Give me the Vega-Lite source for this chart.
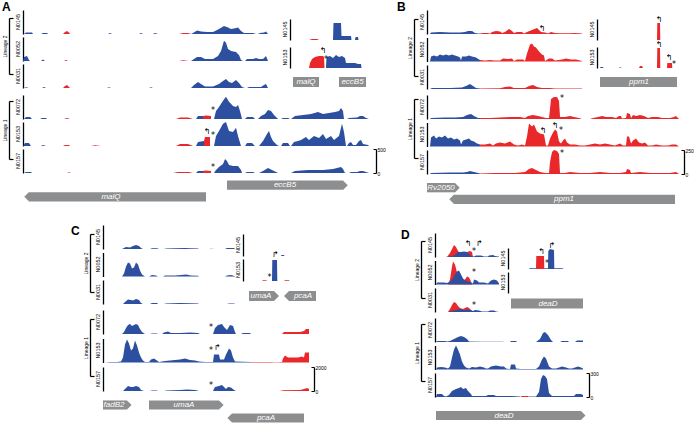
{
"$schema":"https://vega.github.io/schema/vega-lite/v6.json",
"padding":{"left":2,"top":0,"right":0,"bottom":0},
"config":{"view":{"stroke":null},"font":"Liberation Sans",
"axisY":{"domainColor":"#000","domainWidth":1.3,"ticks":false,"labels":false,"grid":false},
"header":{"labelFontSize":5.5,"labelPadding":1.5,"labelColor":"#000","labelFont":"Liberation Sans"},
"title":{"fontSize":12,"fontWeight":"bold","anchor":"start","color":"#000","frame":"group"}},
"datasets":{
"A2":[
{"s":"N0145","c":"b","x":1,"v":0},{"s":"N0145","c":"b","x":3,"v":32},{"s":"N0145","c":"b","x":9,"v":32},{"s":"N0145","c":"b","x":10,"v":0},{"s":"N0145","c":"b","x":18,"v":0},{"s":"N0145","c":"b","x":20,"v":21},{"s":"N0145","c":"b","x":24,"v":21},{"s":"N0145","c":"b","x":25,"v":0},{"s":"N0145","c":"b","x":85,"v":0},{"s":"N0145","c":"b","x":87,"v":21},{"s":"N0145","c":"b","x":89,"v":0},{"s":"N0145","c":"b","x":116,"v":0},{"s":"N0145","c":"b","x":118,"v":21},{"s":"N0145","c":"b","x":120,"v":0},{"s":"N0145","c":"b","x":130,"v":0},{"s":"N0145","c":"b","x":132,"v":21},{"s":"N0145","c":"b","x":135,"v":0},{"s":"N0145","c":"b","x":168,"v":0},{"s":"N0145","c":"b","x":170,"v":21},{"s":"N0145","c":"b","x":174,"v":74},{"s":"N0145","c":"b","x":178,"v":53},{"s":"N0145","c":"b","x":184,"v":42},{"s":"N0145","c":"b","x":190,"v":42},{"s":"N0145","c":"b","x":196,"v":105},{"s":"N0145","c":"b","x":201,"v":168},{"s":"N0145","c":"b","x":205,"v":137},{"s":"N0145","c":"b","x":208,"v":105},{"s":"N0145","c":"b","x":211,"v":116},{"s":"N0145","c":"b","x":215,"v":137},{"s":"N0145","c":"b","x":218,"v":63},{"s":"N0145","c":"b","x":221,"v":21},{"s":"N0145","c":"b","x":230,"v":21},{"s":"N0145","c":"b","x":233,"v":0},{"s":"N0145","c":"b","x":235,"v":0},{"s":"N0145","c":"b","x":237,"v":21},{"s":"N0145","c":"b","x":241,"v":32},{"s":"N0145","c":"b","x":243,"v":53},{"s":"N0145","c":"b","x":245,"v":0},
{"s":"N0145","c":"r","x":40,"v":0},{"s":"N0145","c":"r","x":42,"v":42},{"s":"N0145","c":"r","x":44,"v":63},{"s":"N0145","c":"r","x":46,"v":32},{"s":"N0145","c":"r","x":47,"v":0},{"s":"N0145","c":"r","x":156,"v":0},{"s":"N0145","c":"r","x":160,"v":21},{"s":"N0145","c":"r","x":165,"v":21},{"s":"N0145","c":"r","x":168,"v":0},
{"s":"N0052","c":"b","x":0,"v":0},{"s":"N0052","c":"b","x":1,"v":84},{"s":"N0052","c":"b","x":4,"v":105},{"s":"N0052","c":"b","x":6,"v":21},{"s":"N0052","c":"b","x":7,"v":0},{"s":"N0052","c":"b","x":18,"v":0},{"s":"N0052","c":"b","x":20,"v":32},{"s":"N0052","c":"b","x":22,"v":0},{"s":"N0052","c":"b","x":168,"v":0},{"s":"N0052","c":"b","x":171,"v":42},{"s":"N0052","c":"b","x":174,"v":84},{"s":"N0052","c":"b","x":178,"v":84},{"s":"N0052","c":"b","x":182,"v":42},{"s":"N0052","c":"b","x":190,"v":42},{"s":"N0052","c":"b","x":195,"v":105},{"s":"N0052","c":"b","x":198,"v":210},{"s":"N0052","c":"b","x":201,"v":420},{"s":"N0052","c":"b","x":203,"v":378},{"s":"N0052","c":"b","x":205,"v":252},{"s":"N0052","c":"b","x":208,"v":210},{"s":"N0052","c":"b","x":213,"v":189},{"s":"N0052","c":"b","x":216,"v":126},{"s":"N0052","c":"b","x":218,"v":21},{"s":"N0052","c":"b","x":220,"v":0},{"s":"N0052","c":"b","x":222,"v":0},{"s":"N0052","c":"b","x":224,"v":42},{"s":"N0052","c":"b","x":230,"v":42},{"s":"N0052","c":"b","x":233,"v":63},{"s":"N0052","c":"b","x":236,"v":42},{"s":"N0052","c":"b","x":240,"v":42},{"s":"N0052","c":"b","x":243,"v":105},{"s":"N0052","c":"b","x":245,"v":0},
{"s":"N0052","c":"r","x":41,"v":0},{"s":"N0052","c":"r","x":43,"v":21},{"s":"N0052","c":"r","x":45,"v":0},{"s":"N0052","c":"r","x":156,"v":0},{"s":"N0052","c":"r","x":160,"v":17},{"s":"N0052","c":"r","x":166,"v":0},
{"s":"N0031","c":"b","x":1,"v":0},{"s":"N0031","c":"b","x":3,"v":17},{"s":"N0031","c":"b","x":6,"v":0},{"s":"N0031","c":"b","x":19,"v":0},{"s":"N0031","c":"b","x":21,"v":21},{"s":"N0031","c":"b","x":23,"v":0},{"s":"N0031","c":"b","x":84,"v":0},{"s":"N0031","c":"b","x":86,"v":17},{"s":"N0031","c":"b","x":88,"v":0},{"s":"N0031","c":"b","x":126,"v":0},{"s":"N0031","c":"b","x":128,"v":17},{"s":"N0031","c":"b","x":130,"v":0},{"s":"N0031","c":"b","x":168,"v":0},{"s":"N0031","c":"b","x":171,"v":63},{"s":"N0031","c":"b","x":175,"v":126},{"s":"N0031","c":"b","x":178,"v":84},{"s":"N0031","c":"b","x":182,"v":32},{"s":"N0031","c":"b","x":190,"v":32},{"s":"N0031","c":"b","x":196,"v":84},{"s":"N0031","c":"b","x":200,"v":147},{"s":"N0031","c":"b","x":203,"v":189},{"s":"N0031","c":"b","x":206,"v":126},{"s":"N0031","c":"b","x":209,"v":105},{"s":"N0031","c":"b","x":213,"v":168},{"s":"N0031","c":"b","x":216,"v":105},{"s":"N0031","c":"b","x":219,"v":21},{"s":"N0031","c":"b","x":222,"v":0},{"s":"N0031","c":"b","x":224,"v":0},{"s":"N0031","c":"b","x":226,"v":21},{"s":"N0031","c":"b","x":238,"v":21},{"s":"N0031","c":"b","x":241,"v":63},{"s":"N0031","c":"b","x":243,"v":84},{"s":"N0031","c":"b","x":245,"v":0},
{"s":"N0031","c":"r","x":40,"v":0},{"s":"N0031","c":"r","x":42,"v":42},{"s":"N0031","c":"r","x":44,"v":63},{"s":"N0031","c":"r","x":46,"v":21},{"s":"N0031","c":"r","x":47,"v":0}
],
"A1":[
{"s":"N0072","c":"b","x":1,"v":0},{"s":"N0072","c":"b","x":3,"v":42},{"s":"N0072","c":"b","x":7,"v":42},{"s":"N0072","c":"b","x":9,"v":0},{"s":"N0072","c":"b","x":17,"v":0},{"s":"N0072","c":"b","x":19,"v":21},{"s":"N0072","c":"b","x":23,"v":21},{"s":"N0072","c":"b","x":24,"v":0},{"s":"N0072","c":"b","x":173,"v":0},{"s":"N0072","c":"b","x":175,"v":63},{"s":"N0072","c":"b","x":180,"v":63},{"s":"N0072","c":"b","x":180.1,"v":0},{"s":"N0072","c":"b","x":191,"v":0},{"s":"N0072","c":"b","x":193,"v":168},{"s":"N0072","c":"b","x":196,"v":252},{"s":"N0072","c":"b","x":200,"v":378},{"s":"N0072","c":"b","x":203,"v":462},{"s":"N0072","c":"b","x":206,"v":357},{"s":"N0072","c":"b","x":210,"v":273},{"s":"N0072","c":"b","x":213,"v":252},{"s":"N0072","c":"b","x":215,"v":294},{"s":"N0072","c":"b","x":217,"v":168},{"s":"N0072","c":"b","x":219,"v":0},{"s":"N0072","c":"b","x":222,"v":0},{"s":"N0072","c":"b","x":224,"v":42},{"s":"N0072","c":"b","x":230,"v":42},{"s":"N0072","c":"b","x":232,"v":0},{"s":"N0072","c":"b","x":235,"v":0},{"s":"N0072","c":"b","x":238,"v":63},{"s":"N0072","c":"b","x":242,"v":105},{"s":"N0072","c":"b","x":245,"v":189},{"s":"N0072","c":"b","x":248,"v":168},{"s":"N0072","c":"b","x":251,"v":84},{"s":"N0072","c":"b","x":255,"v":0},{"s":"N0072","c":"b","x":258,"v":0},{"s":"N0072","c":"b","x":260,"v":21},{"s":"N0072","c":"b","x":265,"v":21},{"s":"N0072","c":"b","x":267,"v":0},{"s":"N0072","c":"b","x":268,"v":0},{"s":"N0072","c":"b","x":272,"v":63},{"s":"N0072","c":"b","x":280,"v":84},{"s":"N0072","c":"b","x":288,"v":105},{"s":"N0072","c":"b","x":295,"v":147},{"s":"N0072","c":"b","x":300,"v":105},{"s":"N0072","c":"b","x":306,"v":126},{"s":"N0072","c":"b","x":312,"v":147},{"s":"N0072","c":"b","x":316,"v":168},{"s":"N0072","c":"b","x":318,"v":231},{"s":"N0072","c":"b","x":320,"v":168},{"s":"N0072","c":"b","x":321,"v":0},{"s":"N0072","c":"b","x":324,"v":0},{"s":"N0072","c":"b","x":326,"v":21},{"s":"N0072","c":"b","x":334,"v":32},{"s":"N0072","c":"b","x":337,"v":63},{"s":"N0072","c":"b","x":340,"v":63},{"s":"N0072","c":"b","x":343,"v":21},{"s":"N0072","c":"b","x":346,"v":0},
{"s":"N0072","c":"r","x":41,"v":0},{"s":"N0072","c":"r","x":44,"v":21},{"s":"N0072","c":"r","x":47,"v":0},{"s":"N0072","c":"r","x":153,"v":0},{"s":"N0072","c":"r","x":157,"v":32},{"s":"N0072","c":"r","x":165,"v":32},{"s":"N0072","c":"r","x":170,"v":0},{"s":"N0072","c":"r","x":179.9,"v":0},{"s":"N0072","c":"r","x":180,"v":63},{"s":"N0072","c":"r","x":183,"v":74},{"s":"N0072","c":"r","x":188,"v":63},
{"s":"N0072","x":190,"v":170,"t":"*"},
{"s":"N0153","c":"b","x":0,"v":0},{"s":"N0153","c":"b","x":2,"v":63},{"s":"N0153","c":"b","x":6,"v":63},{"s":"N0153","c":"b","x":8,"v":0},{"s":"N0153","c":"b","x":18,"v":0},{"s":"N0153","c":"b","x":20,"v":21},{"s":"N0153","c":"b","x":23,"v":0},{"s":"N0153","c":"b","x":173,"v":0},{"s":"N0153","c":"b","x":175,"v":84},{"s":"N0153","c":"b","x":181,"v":105},{"s":"N0153","c":"b","x":181.1,"v":0},{"s":"N0153","c":"b","x":191,"v":0},{"s":"N0153","c":"b","x":193,"v":210},{"s":"N0153","c":"b","x":196,"v":315},{"s":"N0153","c":"b","x":200,"v":462},{"s":"N0153","c":"b","x":203,"v":500},{"s":"N0153","c":"b","x":206,"v":315},{"s":"N0153","c":"b","x":210,"v":294},{"s":"N0153","c":"b","x":213,"v":378},{"s":"N0153","c":"b","x":215,"v":210},{"s":"N0153","c":"b","x":218,"v":0},{"s":"N0153","c":"b","x":222,"v":0},{"s":"N0153","c":"b","x":224,"v":63},{"s":"N0153","c":"b","x":229,"v":63},{"s":"N0153","c":"b","x":232,"v":0},{"s":"N0153","c":"b","x":236,"v":0},{"s":"N0153","c":"b","x":240,"v":105},{"s":"N0153","c":"b","x":244,"v":252},{"s":"N0153","c":"b","x":246,"v":315},{"s":"N0153","c":"b","x":248,"v":189},{"s":"N0153","c":"b","x":250,"v":105},{"s":"N0153","c":"b","x":254,"v":21},{"s":"N0153","c":"b","x":256,"v":0},{"s":"N0153","c":"b","x":258,"v":0},{"s":"N0153","c":"b","x":260,"v":63},{"s":"N0153","c":"b","x":265,"v":63},{"s":"N0153","c":"b","x":267,"v":0},{"s":"N0153","c":"b","x":268,"v":0},{"s":"N0153","c":"b","x":271,"v":84},{"s":"N0153","c":"b","x":275,"v":105},{"s":"N0153","c":"b","x":278,"v":126},{"s":"N0153","c":"b","x":283,"v":189},{"s":"N0153","c":"b","x":286,"v":126},{"s":"N0153","c":"b","x":291,"v":210},{"s":"N0153","c":"b","x":296,"v":168},{"s":"N0153","c":"b","x":300,"v":252},{"s":"N0153","c":"b","x":303,"v":147},{"s":"N0153","c":"b","x":308,"v":210},{"s":"N0153","c":"b","x":311,"v":126},{"s":"N0153","c":"b","x":316,"v":210},{"s":"N0153","c":"b","x":319,"v":462},{"s":"N0153","c":"b","x":321,"v":294},{"s":"N0153","c":"b","x":323,"v":0},{"s":"N0153","c":"b","x":324,"v":0},{"s":"N0153","c":"b","x":326,"v":63},{"s":"N0153","c":"b","x":328,"v":84},{"s":"N0153","c":"b","x":330,"v":21},{"s":"N0153","c":"b","x":333,"v":21},{"s":"N0153","c":"b","x":336,"v":105},{"s":"N0153","c":"b","x":338,"v":126},{"s":"N0153","c":"b","x":340,"v":42},{"s":"N0153","c":"b","x":345,"v":21},{"s":"N0153","c":"b","x":346,"v":0},
{"s":"N0153","c":"r","x":40,"v":0},{"s":"N0153","c":"r","x":42,"v":21},{"s":"N0153","c":"r","x":46,"v":21},{"s":"N0153","c":"r","x":47,"v":0},{"s":"N0153","c":"r","x":68,"v":0},{"s":"N0153","c":"r","x":72,"v":15},{"s":"N0153","c":"r","x":78,"v":0},{"s":"N0153","c":"r","x":153,"v":0},{"s":"N0153","c":"r","x":157,"v":42},{"s":"N0153","c":"r","x":165,"v":42},{"s":"N0153","c":"r","x":170,"v":0},{"s":"N0153","c":"r","x":180.9,"v":0},{"s":"N0153","c":"r","x":181,"v":105},{"s":"N0153","c":"r","x":182,"v":189},{"s":"N0153","c":"r","x":187,"v":189},
{"s":"N0153","x":184,"v":290,"t":"↰"},{"s":"N0153","x":190,"v":210,"t":"*"},
{"s":"N0157","c":"b","x":1,"v":0},{"s":"N0157","c":"b","x":3,"v":21},{"s":"N0157","c":"b","x":8,"v":21},{"s":"N0157","c":"b","x":9,"v":0},{"s":"N0157","c":"b","x":173,"v":0},{"s":"N0157","c":"b","x":175,"v":42},{"s":"N0157","c":"b","x":180,"v":42},{"s":"N0157","c":"b","x":180.1,"v":0},{"s":"N0157","c":"b","x":191,"v":0},{"s":"N0157","c":"b","x":193,"v":63},{"s":"N0157","c":"b","x":196,"v":126},{"s":"N0157","c":"b","x":200,"v":189},{"s":"N0157","c":"b","x":202,"v":294},{"s":"N0157","c":"b","x":204,"v":252},{"s":"N0157","c":"b","x":206,"v":168},{"s":"N0157","c":"b","x":210,"v":147},{"s":"N0157","c":"b","x":215,"v":147},{"s":"N0157","c":"b","x":218,"v":63},{"s":"N0157","c":"b","x":219,"v":0},{"s":"N0157","c":"b","x":222,"v":0},{"s":"N0157","c":"b","x":224,"v":21},{"s":"N0157","c":"b","x":230,"v":21},{"s":"N0157","c":"b","x":232,"v":0},{"s":"N0157","c":"b","x":236,"v":0},{"s":"N0157","c":"b","x":240,"v":42},{"s":"N0157","c":"b","x":245,"v":105},{"s":"N0157","c":"b","x":249,"v":63},{"s":"N0157","c":"b","x":253,"v":21},{"s":"N0157","c":"b","x":255,"v":0},{"s":"N0157","c":"b","x":268,"v":0},{"s":"N0157","c":"b","x":272,"v":42},{"s":"N0157","c":"b","x":285,"v":63},{"s":"N0157","c":"b","x":300,"v":63},{"s":"N0157","c":"b","x":310,"v":84},{"s":"N0157","c":"b","x":318,"v":126},{"s":"N0157","c":"b","x":320,"v":84},{"s":"N0157","c":"b","x":322,"v":0},{"s":"N0157","c":"b","x":326,"v":0},{"s":"N0157","c":"b","x":328,"v":21},{"s":"N0157","c":"b","x":334,"v":21},{"s":"N0157","c":"b","x":337,"v":42},{"s":"N0157","c":"b","x":340,"v":42},{"s":"N0157","c":"b","x":343,"v":21},{"s":"N0157","c":"b","x":346,"v":0},
{"s":"N0157","c":"r","x":44,"v":0},{"s":"N0157","c":"r","x":46,"v":17},{"s":"N0157","c":"r","x":48,"v":0},{"s":"N0157","c":"r","x":150,"v":0},{"s":"N0157","c":"r","x":155,"v":21},{"s":"N0157","c":"r","x":166,"v":21},{"s":"N0157","c":"r","x":170,"v":0},{"s":"N0157","c":"r","x":179.9,"v":0},{"s":"N0157","c":"r","x":180,"v":42},{"s":"N0157","c":"r","x":182,"v":53},{"s":"N0157","c":"r","x":188,"v":42},
{"s":"N0157","x":190,"v":110,"t":"*"}
],
"Ai":[
{"s":"N0145","c":"r","x":19,"v":0},{"s":"N0145","c":"r","x":22,"v":5},{"s":"N0145","c":"r","x":27,"v":5},{"s":"N0145","c":"r","x":29,"v":0},
{"s":"N0145","c":"b","x":43,"v":0},{"s":"N0145","c":"b","x":43.5,"v":81},{"s":"N0145","c":"b","x":51,"v":81},{"s":"N0145","c":"b","x":51.5,"v":19},{"s":"N0145","c":"b","x":61,"v":19},{"s":"N0145","c":"b","x":61.5,"v":0},{"s":"N0145","c":"b","x":65,"v":0},{"s":"N0145","c":"b","x":65.5,"v":14},{"s":"N0145","c":"b","x":68,"v":14},{"s":"N0145","c":"b","x":68.5,"v":0},
{"s":"N0153","c":"r","x":19,"v":0},{"s":"N0153","c":"r","x":20,"v":24},{"s":"N0153","c":"r","x":22,"v":43},{"s":"N0153","c":"r","x":25,"v":52},{"s":"N0153","c":"r","x":29,"v":57},{"s":"N0153","c":"r","x":33,"v":57},{"s":"N0153","c":"r","x":34,"v":52},{"s":"N0153","c":"r","x":34.5,"v":0},
{"s":"N0153","c":"b","x":36,"v":0},{"s":"N0153","c":"b","x":36.5,"v":52},{"s":"N0153","c":"b","x":40,"v":57},{"s":"N0153","c":"b","x":43,"v":48},{"s":"N0153","c":"b","x":46,"v":62},{"s":"N0153","c":"b","x":49,"v":52},{"s":"N0153","c":"b","x":52,"v":57},{"s":"N0153","c":"b","x":55,"v":48},{"s":"N0153","c":"b","x":56,"v":24},{"s":"N0153","c":"b","x":65,"v":24},{"s":"N0153","c":"b","x":68,"v":19},{"s":"N0153","c":"b","x":71,"v":19},{"s":"N0153","c":"b","x":71.5,"v":0},
{"s":"N0153","x":33,"v":80,"t":"↰"},{"s":"N0153","x":36,"v":40,"t":"*"}
],
"Ag":[{"s":"g","gene":"eccB5","lane":"1","x0":204,"x1":320,"d":"+","tip":320,"m":262},{"s":"g","gene":"malQ","lane":"2","x0":6,"x1":183,"d":"-","tip":6,"m":88}],
"Aig":[{"s":"g","gene":"malQ","lane":"1","x0":3,"x1":29,"d":"0","tip":29,"m":16},{"s":"g","gene":"eccB5","lane":"1","x0":49,"x1":76,"d":"0","tip":76,"m":62.5}],
"B2":[
{"s":"N0145","c":"b","x":0,"v":0},{"s":"N0145","c":"b","x":1,"v":16},{"s":"N0145","c":"b","x":10,"v":21},{"s":"N0145","c":"b","x":20,"v":16},{"s":"N0145","c":"b","x":30,"v":16},{"s":"N0145","c":"b","x":35,"v":21},{"s":"N0145","c":"b","x":38,"v":31},{"s":"N0145","c":"b","x":42,"v":31},{"s":"N0145","c":"b","x":45,"v":10},{"s":"N0145","c":"b","x":48,"v":5},{"s":"N0145","c":"b","x":50,"v":5},
{"s":"N0145","c":"r","x":50,"v":5},{"s":"N0145","c":"r","x":53,"v":10},{"s":"N0145","c":"r","x":58,"v":10},{"s":"N0145","c":"r","x":60,"v":3},{"s":"N0145","c":"r","x":62,"v":21},{"s":"N0145","c":"r","x":66,"v":31},{"s":"N0145","c":"r","x":70,"v":26},{"s":"N0145","c":"r","x":72,"v":10},{"s":"N0145","c":"r","x":75,"v":21},{"s":"N0145","c":"r","x":79,"v":52},{"s":"N0145","c":"r","x":82,"v":31},{"s":"N0145","c":"r","x":84,"v":10},{"s":"N0145","c":"r","x":87,"v":21},{"s":"N0145","c":"r","x":92,"v":21},{"s":"N0145","c":"r","x":94,"v":5},{"s":"N0145","c":"r","x":97,"v":21},{"s":"N0145","c":"r","x":102,"v":42},{"s":"N0145","c":"r","x":107,"v":62},{"s":"N0145","c":"r","x":109,"v":42},{"s":"N0145","c":"r","x":111,"v":21},{"s":"N0145","c":"r","x":115,"v":16},{"s":"N0145","c":"r","x":118,"v":5},{"s":"N0145","c":"r","x":121,"v":21},{"s":"N0145","c":"r","x":125,"v":10},{"s":"N0145","c":"r","x":130,"v":8},{"s":"N0145","c":"r","x":140,"v":8},{"s":"N0145","c":"r","x":145,"v":10},{"s":"N0145","c":"r","x":152,"v":5},
{"s":"N0145","x":112,"v":50,"t":"↰"},
{"s":"N0052","c":"b","x":0,"v":0},{"s":"N0052","c":"b","x":1,"v":52},{"s":"N0052","c":"b","x":4,"v":62},{"s":"N0052","c":"b","x":7,"v":52},{"s":"N0052","c":"b","x":10,"v":73},{"s":"N0052","c":"b","x":13,"v":62},{"s":"N0052","c":"b","x":16,"v":73},{"s":"N0052","c":"b","x":19,"v":62},{"s":"N0052","c":"b","x":22,"v":73},{"s":"N0052","c":"b","x":25,"v":62},{"s":"N0052","c":"b","x":28,"v":52},{"s":"N0052","c":"b","x":30,"v":42},{"s":"N0052","c":"b","x":31,"v":10},{"s":"N0052","c":"b","x":32,"v":52},{"s":"N0052","c":"b","x":36,"v":52},{"s":"N0052","c":"b","x":39,"v":62},{"s":"N0052","c":"b","x":42,"v":52},{"s":"N0052","c":"b","x":46,"v":42},{"s":"N0052","c":"b","x":49,"v":21},{"s":"N0052","c":"b","x":50,"v":16},
{"s":"N0052","c":"r","x":50,"v":16},{"s":"N0052","c":"r","x":55,"v":10},{"s":"N0052","c":"r","x":60,"v":16},{"s":"N0052","c":"r","x":65,"v":10},{"s":"N0052","c":"r","x":70,"v":10},{"s":"N0052","c":"r","x":73,"v":31},{"s":"N0052","c":"r","x":78,"v":26},{"s":"N0052","c":"r","x":82,"v":31},{"s":"N0052","c":"r","x":84,"v":5},{"s":"N0052","c":"r","x":87,"v":21},{"s":"N0052","c":"r","x":93,"v":21},{"s":"N0052","c":"r","x":95,"v":5},{"s":"N0052","c":"r","x":97,"v":83},{"s":"N0052","c":"r","x":100,"v":177},{"s":"N0052","c":"r","x":102,"v":187},{"s":"N0052","c":"r","x":104,"v":156},{"s":"N0052","c":"r","x":106,"v":146},{"s":"N0052","c":"r","x":109,"v":104},{"s":"N0052","c":"r","x":112,"v":73},{"s":"N0052","c":"r","x":114,"v":62},{"s":"N0052","c":"r","x":115,"v":5},{"s":"N0052","c":"r","x":119,"v":31},{"s":"N0052","c":"r","x":122,"v":31},{"s":"N0052","c":"r","x":125,"v":10},{"s":"N0052","c":"r","x":132,"v":21},{"s":"N0052","c":"r","x":136,"v":31},{"s":"N0052","c":"r","x":141,"v":21},{"s":"N0052","c":"r","x":146,"v":21},{"s":"N0052","c":"r","x":150,"v":10},{"s":"N0052","c":"r","x":152,"v":5},
{"s":"N0031","c":"b","x":0,"v":0},{"s":"N0031","c":"b","x":2,"v":10},{"s":"N0031","c":"b","x":20,"v":10},{"s":"N0031","c":"b","x":32,"v":16},{"s":"N0031","c":"b","x":36,"v":31},{"s":"N0031","c":"b","x":40,"v":52},{"s":"N0031","c":"b","x":43,"v":31},{"s":"N0031","c":"b","x":46,"v":10},{"s":"N0031","c":"b","x":50,"v":5},
{"s":"N0031","c":"r","x":50,"v":5},{"s":"N0031","c":"r","x":70,"v":8},{"s":"N0031","c":"r","x":75,"v":21},{"s":"N0031","c":"r","x":80,"v":26},{"s":"N0031","c":"r","x":84,"v":10},{"s":"N0031","c":"r","x":95,"v":10},{"s":"N0031","c":"r","x":99,"v":31},{"s":"N0031","c":"r","x":103,"v":42},{"s":"N0031","c":"r","x":107,"v":21},{"s":"N0031","c":"r","x":112,"v":10},{"s":"N0031","c":"r","x":120,"v":10},{"s":"N0031","c":"r","x":125,"v":5},{"s":"N0031","c":"r","x":152,"v":5}
],
"B1":[
{"s":"N0072","c":"b","x":0,"v":0},{"s":"N0072","c":"b","x":1,"v":10},{"s":"N0072","c":"b","x":15,"v":16},{"s":"N0072","c":"b","x":25,"v":16},{"s":"N0072","c":"b","x":33,"v":21},{"s":"N0072","c":"b","x":37,"v":42},{"s":"N0072","c":"b","x":41,"v":52},{"s":"N0072","c":"b","x":44,"v":31},{"s":"N0072","c":"b","x":48,"v":10},{"s":"N0072","c":"b","x":50,"v":10},
{"s":"N0072","c":"r","x":50,"v":10},{"s":"N0072","c":"r","x":60,"v":10},{"s":"N0072","c":"r","x":70,"v":16},{"s":"N0072","c":"r","x":80,"v":21},{"s":"N0072","c":"r","x":90,"v":21},{"s":"N0072","c":"r","x":95,"v":10},{"s":"N0072","c":"r","x":98,"v":31},{"s":"N0072","c":"r","x":103,"v":42},{"s":"N0072","c":"r","x":108,"v":31},{"s":"N0072","c":"r","x":112,"v":21},{"s":"N0072","c":"r","x":116,"v":10},{"s":"N0072","c":"r","x":119,"v":10},{"s":"N0072","c":"r","x":120,"v":104},{"s":"N0072","c":"r","x":121,"v":208},{"s":"N0072","c":"r","x":124,"v":229},{"s":"N0072","c":"r","x":127,"v":229},{"s":"N0072","c":"r","x":129,"v":187},{"s":"N0072","c":"r","x":130,"v":21},{"s":"N0072","c":"r","x":135,"v":21},{"s":"N0072","c":"r","x":140,"v":31},{"s":"N0072","c":"r","x":144,"v":21},{"s":"N0072","c":"r","x":149,"v":10},{"s":"N0072","c":"r","x":152,"v":0},{"s":"N0072","c":"r","x":160,"v":0},{"s":"N0072","c":"r","x":163,"v":10},{"s":"N0072","c":"r","x":168,"v":21},{"s":"N0072","c":"r","x":172,"v":31},{"s":"N0072","c":"r","x":176,"v":21},{"s":"N0072","c":"r","x":182,"v":21},{"s":"N0072","c":"r","x":186,"v":10},{"s":"N0072","c":"r","x":189,"v":31},{"s":"N0072","c":"r","x":191,"v":31},{"s":"N0072","c":"r","x":192,"v":5},{"s":"N0072","c":"r","x":196,"v":10},{"s":"N0072","c":"r","x":197,"v":62},{"s":"N0072","c":"r","x":200,"v":52},{"s":"N0072","c":"r","x":201,"v":10},{"s":"N0072","c":"r","x":203,"v":42},{"s":"N0072","c":"r","x":206,"v":31},{"s":"N0072","c":"r","x":210,"v":42},{"s":"N0072","c":"r","x":214,"v":31},{"s":"N0072","c":"r","x":218,"v":10},{"s":"N0072","c":"r","x":222,"v":21},{"s":"N0072","c":"r","x":228,"v":21},{"s":"N0072","c":"r","x":232,"v":10},{"s":"N0072","c":"r","x":240,"v":10},{"s":"N0072","c":"r","x":244,"v":21},{"s":"N0072","c":"r","x":246,"v":31},{"s":"N0072","c":"r","x":248,"v":10},{"s":"N0072","c":"r","x":249,"v":0},
{"s":"N0072","x":132,"v":210,"t":"*"},
{"s":"N0153","c":"b","x":0,"v":0},{"s":"N0153","c":"b","x":1,"v":94},{"s":"N0153","c":"b","x":4,"v":114},{"s":"N0153","c":"b","x":6,"v":83},{"s":"N0153","c":"b","x":9,"v":104},{"s":"N0153","c":"b","x":12,"v":94},{"s":"N0153","c":"b","x":15,"v":114},{"s":"N0153","c":"b","x":18,"v":83},{"s":"N0153","c":"b","x":21,"v":94},{"s":"N0153","c":"b","x":24,"v":73},{"s":"N0153","c":"b","x":27,"v":83},{"s":"N0153","c":"b","x":30,"v":62},{"s":"N0153","c":"b","x":31,"v":21},{"s":"N0153","c":"b","x":33,"v":62},{"s":"N0153","c":"b","x":36,"v":73},{"s":"N0153","c":"b","x":39,"v":83},{"s":"N0153","c":"b","x":41,"v":62},{"s":"N0153","c":"b","x":44,"v":52},{"s":"N0153","c":"b","x":47,"v":31},{"s":"N0153","c":"b","x":50,"v":21},
{"s":"N0153","c":"r","x":50,"v":21},{"s":"N0153","c":"r","x":55,"v":21},{"s":"N0153","c":"r","x":60,"v":31},{"s":"N0153","c":"r","x":63,"v":10},{"s":"N0153","c":"r","x":66,"v":31},{"s":"N0153","c":"r","x":70,"v":42},{"s":"N0153","c":"r","x":75,"v":31},{"s":"N0153","c":"r","x":80,"v":52},{"s":"N0153","c":"r","x":84,"v":21},{"s":"N0153","c":"r","x":88,"v":10},{"s":"N0153","c":"r","x":92,"v":21},{"s":"N0153","c":"r","x":95,"v":10},{"s":"N0153","c":"r","x":97,"v":104},{"s":"N0153","c":"r","x":99,"v":239},{"s":"N0153","c":"r","x":102,"v":208},{"s":"N0153","c":"r","x":104,"v":229},{"s":"N0153","c":"r","x":107,"v":156},{"s":"N0153","c":"r","x":110,"v":135},{"s":"N0153","c":"r","x":114,"v":125},{"s":"N0153","c":"r","x":116,"v":10},{"s":"N0153","c":"r","x":118,"v":10},{"s":"N0153","c":"r","x":120,"v":83},{"s":"N0153","c":"r","x":123,"v":146},{"s":"N0153","c":"r","x":125,"v":177},{"s":"N0153","c":"r","x":127,"v":156},{"s":"N0153","c":"r","x":129,"v":52},{"s":"N0153","c":"r","x":131,"v":31},{"s":"N0153","c":"r","x":133,"v":62},{"s":"N0153","c":"r","x":135,"v":83},{"s":"N0153","c":"r","x":137,"v":42},{"s":"N0153","c":"r","x":140,"v":21},{"s":"N0153","c":"r","x":145,"v":21},{"s":"N0153","c":"r","x":150,"v":10},{"s":"N0153","c":"r","x":155,"v":10},{"s":"N0153","c":"r","x":160,"v":21},{"s":"N0153","c":"r","x":165,"v":31},{"s":"N0153","c":"r","x":170,"v":21},{"s":"N0153","c":"r","x":175,"v":31},{"s":"N0153","c":"r","x":180,"v":21},{"s":"N0153","c":"r","x":185,"v":10},{"s":"N0153","c":"r","x":190,"v":31},{"s":"N0153","c":"r","x":193,"v":10},{"s":"N0153","c":"r","x":196,"v":10},{"s":"N0153","c":"r","x":197,"v":104},{"s":"N0153","c":"r","x":199,"v":104},{"s":"N0153","c":"r","x":201,"v":31},{"s":"N0153","c":"r","x":203,"v":62},{"s":"N0153","c":"r","x":206,"v":83},{"s":"N0153","c":"r","x":209,"v":42},{"s":"N0153","c":"r","x":212,"v":31},{"s":"N0153","c":"r","x":215,"v":42},{"s":"N0153","c":"r","x":218,"v":10},{"s":"N0153","c":"r","x":222,"v":10},{"s":"N0153","c":"r","x":226,"v":21},{"s":"N0153","c":"r","x":232,"v":10},{"s":"N0153","c":"r","x":238,"v":10},{"s":"N0153","c":"r","x":242,"v":21},{"s":"N0153","c":"r","x":246,"v":21},{"s":"N0153","c":"r","x":249,"v":0},
{"s":"N0153","x":113,"v":166,"t":"↰"},{"s":"N0153","x":125,"v":218,"t":"↰"},{"s":"N0153","x":131,"v":166,"t":"*"},
{"s":"N0157","c":"b","x":0,"v":0},{"s":"N0157","c":"b","x":1,"v":10},{"s":"N0157","c":"b","x":20,"v":16},{"s":"N0157","c":"b","x":33,"v":16},{"s":"N0157","c":"b","x":37,"v":21},{"s":"N0157","c":"b","x":40,"v":31},{"s":"N0157","c":"b","x":44,"v":21},{"s":"N0157","c":"b","x":48,"v":10},{"s":"N0157","c":"b","x":50,"v":5},
{"s":"N0157","c":"r","x":50,"v":5},{"s":"N0157","c":"r","x":65,"v":10},{"s":"N0157","c":"r","x":75,"v":10},{"s":"N0157","c":"r","x":85,"v":10},{"s":"N0157","c":"r","x":95,"v":21},{"s":"N0157","c":"r","x":99,"v":52},{"s":"N0157","c":"r","x":102,"v":62},{"s":"N0157","c":"r","x":106,"v":42},{"s":"N0157","c":"r","x":110,"v":21},{"s":"N0157","c":"r","x":115,"v":10},{"s":"N0157","c":"r","x":119,"v":10},{"s":"N0157","c":"r","x":120,"v":125},{"s":"N0157","c":"r","x":122,"v":229},{"s":"N0157","c":"r","x":124,"v":250},{"s":"N0157","c":"r","x":127,"v":239},{"s":"N0157","c":"r","x":129,"v":208},{"s":"N0157","c":"r","x":130,"v":10},{"s":"N0157","c":"r","x":135,"v":10},{"s":"N0157","c":"r","x":140,"v":21},{"s":"N0157","c":"r","x":150,"v":10},{"s":"N0157","c":"r","x":160,"v":10},{"s":"N0157","c":"r","x":170,"v":21},{"s":"N0157","c":"r","x":180,"v":10},{"s":"N0157","c":"r","x":190,"v":10},{"s":"N0157","c":"r","x":196,"v":21},{"s":"N0157","c":"r","x":197,"v":52},{"s":"N0157","c":"r","x":200,"v":42},{"s":"N0157","c":"r","x":201,"v":10},{"s":"N0157","c":"r","x":210,"v":21},{"s":"N0157","c":"r","x":220,"v":10},{"s":"N0157","c":"r","x":232,"v":10},{"s":"N0157","c":"r","x":240,"v":10},{"s":"N0157","c":"r","x":246,"v":21},{"s":"N0157","c":"r","x":249,"v":0},
{"s":"N0157","x":132,"v":212,"t":"*"}
],
"Bi":[
{"s":"N0145","c":"r","x":60,"v":0},{"s":"N0145","c":"r","x":60.3,"v":81},{"s":"N0145","c":"r","x":63,"v":81},{"s":"N0145","c":"r","x":63.3,"v":0},
{"s":"N0145","x":62,"v":95,"t":"↰"},
{"s":"N0153","c":"b","x":3,"v":0},{"s":"N0153","c":"b","x":3.5,"v":5},{"s":"N0153","c":"b","x":6,"v":5},{"s":"N0153","c":"b","x":6.5,"v":0},{"s":"N0153","c":"b","x":22,"v":0},{"s":"N0153","c":"b","x":23,"v":3},{"s":"N0153","c":"b","x":25,"v":0},
{"s":"N0153","c":"r","x":42,"v":0},{"s":"N0153","c":"r","x":43,"v":10},{"s":"N0153","c":"r","x":45,"v":10},{"s":"N0153","c":"r","x":46,"v":0},{"s":"N0153","c":"r","x":60,"v":0},{"s":"N0153","c":"r","x":60.3,"v":95},{"s":"N0153","c":"r","x":63,"v":95},{"s":"N0153","c":"r","x":63.3,"v":0},{"s":"N0153","c":"r","x":70,"v":0},{"s":"N0153","c":"r","x":70.3,"v":24},{"s":"N0153","c":"r","x":75,"v":24},{"s":"N0153","c":"r","x":75.3,"v":0},
{"s":"N0153","x":62,"v":108,"t":"↰"},{"s":"N0153","x":72,"v":48,"t":"↰"},{"s":"N0153","x":77,"v":12,"t":"*"}
],
"Bg":[{"s":"g","gene":"Rv2050","lane":"1","x0":-3,"x1":25,"d":"+","tip":25,"m":11},{"s":"g","gene":"ppm1","lane":"2","x0":24,"x1":245,"d":"-","tip":24,"m":134}],
"Big":[{"s":"g","gene":"ppm1","lane":"1","x0":3,"x1":80,"d":"0","tip":80,"m":42}],
"C2":[
{"s":"N0145","c":"b","x":17,"v":0},{"s":"N0145","c":"b","x":19,"v":83},{"s":"N0145","c":"b","x":21,"v":166},{"s":"N0145","c":"b","x":25,"v":125},{"s":"N0145","c":"b","x":28,"v":249},{"s":"N0145","c":"b","x":31,"v":332},{"s":"N0145","c":"b","x":34,"v":249},{"s":"N0145","c":"b","x":36,"v":83},{"s":"N0145","c":"b","x":38,"v":0},{"s":"N0145","c":"b","x":45,"v":0},{"s":"N0145","c":"b","x":47,"v":58},{"s":"N0145","c":"b","x":52,"v":58},{"s":"N0145","c":"b","x":54,"v":0},{"s":"N0145","c":"b","x":59,"v":0},{"s":"N0145","c":"b","x":61,"v":42},{"s":"N0145","c":"b","x":70,"v":66},{"s":"N0145","c":"b","x":80,"v":83},{"s":"N0145","c":"b","x":85,"v":66},{"s":"N0145","c":"b","x":93,"v":42},{"s":"N0145","c":"b","x":94,"v":0},{"s":"N0145","c":"b","x":104,"v":0},{"s":"N0145","c":"b","x":106,"v":25},{"s":"N0145","c":"b","x":110,"v":0},{"s":"N0145","c":"b","x":120,"v":0},{"s":"N0145","c":"b","x":122,"v":83},{"s":"N0145","c":"b","x":129,"v":83},{"s":"N0145","c":"b","x":130,"v":0},
{"s":"N0052","c":"b","x":17,"v":0},{"s":"N0052","c":"b","x":19,"v":249},{"s":"N0052","c":"b","x":21,"v":830},{"s":"N0052","c":"b","x":23,"v":1162},{"s":"N0052","c":"b","x":25,"v":1079},{"s":"N0052","c":"b","x":27,"v":664},{"s":"N0052","c":"b","x":29,"v":747},{"s":"N0052","c":"b","x":31,"v":1162},{"s":"N0052","c":"b","x":33,"v":996},{"s":"N0052","c":"b","x":35,"v":498},{"s":"N0052","c":"b","x":37,"v":166},{"s":"N0052","c":"b","x":40,"v":0},{"s":"N0052","c":"b","x":44,"v":0},{"s":"N0052","c":"b","x":47,"v":125},{"s":"N0052","c":"b","x":51,"v":83},{"s":"N0052","c":"b","x":53,"v":0},{"s":"N0052","c":"b","x":58,"v":0},{"s":"N0052","c":"b","x":60,"v":83},{"s":"N0052","c":"b","x":70,"v":83},{"s":"N0052","c":"b","x":76,"v":125},{"s":"N0052","c":"b","x":81,"v":166},{"s":"N0052","c":"b","x":86,"v":83},{"s":"N0052","c":"b","x":93,"v":66},{"s":"N0052","c":"b","x":94,"v":0},{"s":"N0052","c":"b","x":120,"v":0},{"s":"N0052","c":"b","x":122,"v":83},{"s":"N0052","c":"b","x":126,"v":125},{"s":"N0052","c":"b","x":128,"v":83},{"s":"N0052","c":"b","x":129,"v":42},
{"s":"N0052","c":"r","x":129,"v":42},{"s":"N0052","c":"r","x":130,"v":42},
{"s":"N0031","c":"b","x":18,"v":0},{"s":"N0031","c":"b","x":20,"v":166},{"s":"N0031","c":"b","x":23,"v":374},{"s":"N0031","c":"b","x":26,"v":332},{"s":"N0031","c":"b","x":28,"v":291},{"s":"N0031","c":"b","x":31,"v":415},{"s":"N0031","c":"b","x":34,"v":332},{"s":"N0031","c":"b","x":36,"v":83},{"s":"N0031","c":"b","x":38,"v":0},{"s":"N0031","c":"b","x":45,"v":0},{"s":"N0031","c":"b","x":47,"v":83},{"s":"N0031","c":"b","x":52,"v":83},{"s":"N0031","c":"b","x":53,"v":0},{"s":"N0031","c":"b","x":59,"v":0},{"s":"N0031","c":"b","x":61,"v":42},{"s":"N0031","c":"b","x":75,"v":83},{"s":"N0031","c":"b","x":85,"v":66},{"s":"N0031","c":"b","x":93,"v":42},{"s":"N0031","c":"b","x":94,"v":0},{"s":"N0031","c":"b","x":122,"v":0},{"s":"N0031","c":"b","x":124,"v":42},{"s":"N0031","c":"b","x":129,"v":42},{"s":"N0031","c":"b","x":130,"v":0}
],
"C1":[
{"s":"N0072","c":"b","x":17,"v":0},{"s":"N0072","c":"b","x":19,"v":166},{"s":"N0072","c":"b","x":21,"v":498},{"s":"N0072","c":"b","x":23,"v":747},{"s":"N0072","c":"b","x":25,"v":830},{"s":"N0072","c":"b","x":27,"v":664},{"s":"N0072","c":"b","x":29,"v":747},{"s":"N0072","c":"b","x":31,"v":830},{"s":"N0072","c":"b","x":33,"v":747},{"s":"N0072","c":"b","x":35,"v":415},{"s":"N0072","c":"b","x":37,"v":166},{"s":"N0072","c":"b","x":40,"v":0},{"s":"N0072","c":"b","x":45,"v":0},{"s":"N0072","c":"b","x":47,"v":42},{"s":"N0072","c":"b","x":52,"v":42},{"s":"N0072","c":"b","x":53,"v":0},{"s":"N0072","c":"b","x":57,"v":0},{"s":"N0072","c":"b","x":59,"v":125},{"s":"N0072","c":"b","x":63,"v":208},{"s":"N0072","c":"b","x":66,"v":83},{"s":"N0072","c":"b","x":75,"v":83},{"s":"N0072","c":"b","x":85,"v":125},{"s":"N0072","c":"b","x":93,"v":83},{"s":"N0072","c":"b","x":95,"v":0},{"s":"N0072","c":"b","x":108,"v":0},{"s":"N0072","c":"b","x":110,"v":498},{"s":"N0072","c":"b","x":113,"v":747},{"s":"N0072","c":"b","x":117,"v":830},{"s":"N0072","c":"b","x":119,"v":581},{"s":"N0072","c":"b","x":121,"v":415},{"s":"N0072","c":"b","x":122,"v":332},{"s":"N0072","c":"b","x":125,"v":747},{"s":"N0072","c":"b","x":128,"v":664},{"s":"N0072","c":"b","x":130,"v":166},{"s":"N0072","c":"b","x":131,"v":0},{"s":"N0072","c":"b","x":136,"v":0},{"s":"N0072","c":"b","x":138,"v":83},{"s":"N0072","c":"b","x":145,"v":83},{"s":"N0072","c":"b","x":146,"v":0},
{"s":"N0072","c":"r","x":177,"v":0},{"s":"N0072","c":"r","x":179,"v":166},{"s":"N0072","c":"r","x":185,"v":166},{"s":"N0072","c":"r","x":195,"v":166},{"s":"N0072","c":"r","x":199,"v":249},{"s":"N0072","c":"r","x":201,"v":415},{"s":"N0072","c":"r","x":204,"v":415},
{"s":"N0072","x":106,"v":520,"t":"*"},
{"s":"N0153","c":"b","x":0,"v":0},{"s":"N0153","c":"b","x":5,"v":42},{"s":"N0153","c":"b","x":12,"v":42},{"s":"N0153","c":"b","x":16,"v":83},{"s":"N0153","c":"b","x":18,"v":415},{"s":"N0153","c":"b","x":20,"v":1494},{"s":"N0153","c":"b","x":22,"v":1909},{"s":"N0153","c":"b","x":24,"v":1577},{"s":"N0153","c":"b","x":26,"v":996},{"s":"N0153","c":"b","x":28,"v":1162},{"s":"N0153","c":"b","x":30,"v":1826},{"s":"N0153","c":"b","x":32,"v":1411},{"s":"N0153","c":"b","x":34,"v":830},{"s":"N0153","c":"b","x":36,"v":415},{"s":"N0153","c":"b","x":38,"v":166},{"s":"N0153","c":"b","x":40,"v":42},{"s":"N0153","c":"b","x":44,"v":42},{"s":"N0153","c":"b","x":46,"v":249},{"s":"N0153","c":"b","x":49,"v":332},{"s":"N0153","c":"b","x":52,"v":166},{"s":"N0153","c":"b","x":54,"v":42},{"s":"N0153","c":"b","x":60,"v":125},{"s":"N0153","c":"b","x":65,"v":166},{"s":"N0153","c":"b","x":70,"v":208},{"s":"N0153","c":"b","x":75,"v":249},{"s":"N0153","c":"b","x":80,"v":332},{"s":"N0153","c":"b","x":85,"v":208},{"s":"N0153","c":"b","x":90,"v":166},{"s":"N0153","c":"b","x":94,"v":83},{"s":"N0153","c":"b","x":100,"v":42},{"s":"N0153","c":"b","x":108,"v":42},{"s":"N0153","c":"b","x":109,"v":664},{"s":"N0153","c":"b","x":114,"v":664},{"s":"N0153","c":"b","x":115,"v":249},{"s":"N0153","c":"b","x":119,"v":249},{"s":"N0153","c":"b","x":121,"v":664},{"s":"N0153","c":"b","x":124,"v":1162},{"s":"N0153","c":"b","x":126,"v":996},{"s":"N0153","c":"b","x":128,"v":415},{"s":"N0153","c":"b","x":130,"v":83},{"s":"N0153","c":"b","x":146,"v":42},
{"s":"N0153","c":"r","x":146,"v":42},{"s":"N0153","c":"r","x":166,"v":42},{"s":"N0153","c":"r","x":170,"v":25},{"s":"N0153","c":"r","x":177,"v":42},{"s":"N0153","c":"r","x":178,"v":332},{"s":"N0153","c":"r","x":180,"v":581},{"s":"N0153","c":"r","x":183,"v":415},{"s":"N0153","c":"r","x":193,"v":415},{"s":"N0153","c":"r","x":197,"v":498},{"s":"N0153","c":"r","x":199,"v":415},{"s":"N0153","c":"r","x":200,"v":830},{"s":"N0153","c":"r","x":204,"v":830},
{"s":"N0153","x":106,"v":960,"t":"*"},{"s":"N0153","x":112,"v":1230,"t":"↱"},
{"s":"N0157","c":"b","x":18,"v":0},{"s":"N0157","c":"b","x":20,"v":166},{"s":"N0157","c":"b","x":23,"v":415},{"s":"N0157","c":"b","x":26,"v":332},{"s":"N0157","c":"b","x":28,"v":332},{"s":"N0157","c":"b","x":31,"v":415},{"s":"N0157","c":"b","x":34,"v":332},{"s":"N0157","c":"b","x":36,"v":83},{"s":"N0157","c":"b","x":39,"v":0},{"s":"N0157","c":"b","x":45,"v":0},{"s":"N0157","c":"b","x":47,"v":42},{"s":"N0157","c":"b","x":52,"v":42},{"s":"N0157","c":"b","x":53,"v":0},{"s":"N0157","c":"b","x":59,"v":0},{"s":"N0157","c":"b","x":62,"v":42},{"s":"N0157","c":"b","x":75,"v":83},{"s":"N0157","c":"b","x":82,"v":125},{"s":"N0157","c":"b","x":90,"v":83},{"s":"N0157","c":"b","x":94,"v":0},{"s":"N0157","c":"b","x":108,"v":0},{"s":"N0157","c":"b","x":110,"v":332},{"s":"N0157","c":"b","x":114,"v":415},{"s":"N0157","c":"b","x":117,"v":498},{"s":"N0157","c":"b","x":119,"v":332},{"s":"N0157","c":"b","x":121,"v":166},{"s":"N0157","c":"b","x":123,"v":332},{"s":"N0157","c":"b","x":126,"v":291},{"s":"N0157","c":"b","x":129,"v":83},{"s":"N0157","c":"b","x":131,"v":0},
{"s":"N0157","c":"r","x":175,"v":0},{"s":"N0157","c":"r","x":178,"v":58},{"s":"N0157","c":"r","x":195,"v":83},{"s":"N0157","c":"r","x":199,"v":166},{"s":"N0157","c":"r","x":202,"v":249},{"s":"N0157","c":"r","x":204,"v":166},
{"s":"N0157","x":106,"v":380,"t":"*"}
],
"Ci":[
{"s":"N0145","c":"b","x":38,"v":0},{"s":"N0145","c":"b","x":38.5,"v":5},{"s":"N0145","c":"b","x":41,"v":5},{"s":"N0145","c":"b","x":41.5,"v":0},
{"s":"N0153","c":"r","x":19,"v":0},{"s":"N0153","c":"r","x":20,"v":3},{"s":"N0153","c":"r","x":23,"v":3},{"s":"N0153","c":"r","x":24,"v":0},{"s":"N0153","c":"r","x":41,"v":0},{"s":"N0153","c":"r","x":42,"v":3},{"s":"N0153","c":"r","x":46,"v":3},{"s":"N0153","c":"r","x":46.5,"v":0},
{"s":"N0153","c":"b","x":29,"v":0},{"s":"N0153","c":"b","x":29.3,"v":95},{"s":"N0153","c":"b","x":34,"v":95},{"s":"N0153","c":"b","x":34.3,"v":0},
{"s":"N0153","x":32,"v":118,"t":"↱"},{"s":"N0153","x":26.5,"v":14,"t":"*"}
],
"Cg":[{"s":"g","gene":"fadB2","lane":"1","x0":-2,"x1":22,"d":"+","tip":22,"m":9},{"s":"g","gene":"umaA","lane":"1","x0":44,"x1":114,"d":"+","tip":114,"m":79},{"s":"g","gene":"pcaA","lane":"2","x0":127,"x1":199,"d":"-","tip":127,"m":161}],
"Cig":[{"s":"g","gene":"umaA","lane":"1","x0":6,"x1":31,"d":"+","tip":31,"m":18},{"s":"g","gene":"pcaA","lane":"1","x0":46,"x1":73,"d":"-","tip":46,"m":60}],
"D2":[
{"s":"N0145","c":"r","x":11,"v":0},{"s":"N0145","c":"r","x":14,"v":50},{"s":"N0145","c":"r","x":16,"v":100},{"s":"N0145","c":"r","x":18,"v":150},{"s":"N0145","c":"r","x":20,"v":125},{"s":"N0145","c":"r","x":22,"v":75},{"s":"N0145","c":"r","x":24,"v":50},{"s":"N0145","c":"r","x":28,"v":50},{"s":"N0145","c":"r","x":31,"v":62},{"s":"N0145","c":"r","x":34,"v":75},{"s":"N0145","c":"r","x":36,"v":62},{"s":"N0145","c":"r","x":37,"v":0},
{"s":"N0145","c":"b","x":9,"v":0},{"s":"N0145","c":"b","x":14,"v":6},{"s":"N0145","c":"b","x":18,"v":19},{"s":"N0145","c":"b","x":20,"v":37},{"s":"N0145","c":"b","x":22,"v":62},{"s":"N0145","c":"b","x":25,"v":62},{"s":"N0145","c":"b","x":28,"v":69},{"s":"N0145","c":"b","x":31,"v":62},{"s":"N0145","c":"b","x":33,"v":37},{"s":"N0145","c":"b","x":35,"v":12},{"s":"N0145","c":"b","x":38,"v":6},{"s":"N0145","c":"b","x":40,"v":19},{"s":"N0145","c":"b","x":45,"v":19},{"s":"N0145","c":"b","x":48,"v":6},{"s":"N0145","c":"b","x":52,"v":6},{"s":"N0145","c":"b","x":53,"v":19},{"s":"N0145","c":"b","x":57,"v":25},{"s":"N0145","c":"b","x":59,"v":12},{"s":"N0145","c":"b","x":62,"v":6},{"s":"N0145","c":"b","x":63,"v":6},
{"s":"N0145","x":32,"v":162,"t":"↰"},{"s":"N0145","x":38,"v":62,"t":"*"},{"s":"N0145","x":43,"v":162,"t":"↱"},
{"s":"N0052","c":"r","x":12,"v":0},{"s":"N0052","c":"r","x":14,"v":62},{"s":"N0052","c":"r","x":16,"v":225},{"s":"N0052","c":"r","x":17,"v":287},{"s":"N0052","c":"r","x":19,"v":250},{"s":"N0052","c":"r","x":21,"v":150},{"s":"N0052","c":"r","x":23,"v":75},{"s":"N0052","c":"r","x":26,"v":50},{"s":"N0052","c":"r","x":29,"v":62},{"s":"N0052","c":"r","x":31,"v":100},{"s":"N0052","c":"r","x":33,"v":87},{"s":"N0052","c":"r","x":35,"v":37},{"s":"N0052","c":"r","x":36,"v":0},
{"s":"N0052","c":"b","x":0,"v":0},{"s":"N0052","c":"b","x":1,"v":25},{"s":"N0052","c":"b","x":8,"v":25},{"s":"N0052","c":"b","x":11,"v":19},{"s":"N0052","c":"b","x":14,"v":37},{"s":"N0052","c":"b","x":17,"v":75},{"s":"N0052","c":"b","x":19,"v":125},{"s":"N0052","c":"b","x":21,"v":162},{"s":"N0052","c":"b","x":23,"v":175},{"s":"N0052","c":"b","x":25,"v":125},{"s":"N0052","c":"b","x":27,"v":75},{"s":"N0052","c":"b","x":29,"v":50},{"s":"N0052","c":"b","x":32,"v":37},{"s":"N0052","c":"b","x":35,"v":25},{"s":"N0052","c":"b","x":37,"v":12},{"s":"N0052","c":"b","x":38,"v":62},{"s":"N0052","c":"b","x":41,"v":50},{"s":"N0052","c":"b","x":43,"v":25},{"s":"N0052","c":"b","x":48,"v":25},{"s":"N0052","c":"b","x":52,"v":12},{"s":"N0052","c":"b","x":55,"v":50},{"s":"N0052","c":"b","x":58,"v":62},{"s":"N0052","c":"b","x":61,"v":50},{"s":"N0052","c":"b","x":63,"v":12},
{"s":"N0052","x":38,"v":140,"t":"*"},
{"s":"N0031","c":"r","x":12,"v":0},{"s":"N0031","c":"r","x":14,"v":37},{"s":"N0031","c":"r","x":16,"v":87},{"s":"N0031","c":"r","x":18,"v":125},{"s":"N0031","c":"r","x":20,"v":112},{"s":"N0031","c":"r","x":22,"v":75},{"s":"N0031","c":"r","x":24,"v":50},{"s":"N0031","c":"r","x":27,"v":37},{"s":"N0031","c":"r","x":29,"v":50},{"s":"N0031","c":"r","x":31,"v":62},{"s":"N0031","c":"r","x":33,"v":50},{"s":"N0031","c":"r","x":35,"v":25},{"s":"N0031","c":"r","x":36,"v":0},
{"s":"N0031","c":"b","x":12,"v":0},{"s":"N0031","c":"b","x":16,"v":12},{"s":"N0031","c":"b","x":20,"v":25},{"s":"N0031","c":"b","x":24,"v":37},{"s":"N0031","c":"b","x":28,"v":25},{"s":"N0031","c":"b","x":32,"v":31},{"s":"N0031","c":"b","x":35,"v":25},{"s":"N0031","c":"b","x":37,"v":12},{"s":"N0031","c":"b","x":39,"v":25},{"s":"N0031","c":"b","x":43,"v":19},{"s":"N0031","c":"b","x":46,"v":6},{"s":"N0031","c":"b","x":52,"v":6},{"s":"N0031","c":"b","x":54,"v":19},{"s":"N0031","c":"b","x":58,"v":19},{"s":"N0031","c":"b","x":60,"v":6},{"s":"N0031","c":"b","x":63,"v":0},
{"s":"N0031","x":38,"v":80,"t":"*"}
],
"D1":[
{"s":"N0072","c":"b","x":0,"v":0},{"s":"N0072","c":"b","x":1,"v":12},{"s":"N0072","c":"b","x":9,"v":12},{"s":"N0072","c":"b","x":11,"v":6},{"s":"N0072","c":"b","x":14,"v":12},{"s":"N0072","c":"b","x":18,"v":37},{"s":"N0072","c":"b","x":22,"v":62},{"s":"N0072","c":"b","x":25,"v":75},{"s":"N0072","c":"b","x":28,"v":62},{"s":"N0072","c":"b","x":31,"v":37},{"s":"N0072","c":"b","x":33,"v":6},{"s":"N0072","c":"b","x":45,"v":4},{"s":"N0072","c":"b","x":67,"v":4},{"s":"N0072","c":"b","x":68,"v":0},{"s":"N0072","c":"b","x":74,"v":0},{"s":"N0072","c":"b","x":75,"v":12},{"s":"N0072","c":"b","x":80,"v":12},{"s":"N0072","c":"b","x":81,"v":0},{"s":"N0072","c":"b","x":100,"v":0},{"s":"N0072","c":"b","x":104,"v":37},{"s":"N0072","c":"b","x":107,"v":112},{"s":"N0072","c":"b","x":109,"v":125},{"s":"N0072","c":"b","x":112,"v":87},{"s":"N0072","c":"b","x":115,"v":25},{"s":"N0072","c":"b","x":117,"v":0},{"s":"N0072","c":"b","x":124,"v":0},{"s":"N0072","c":"b","x":126,"v":12},{"s":"N0072","c":"b","x":132,"v":12},{"s":"N0072","c":"b","x":133,"v":0},{"s":"N0072","c":"b","x":139,"v":0},{"s":"N0072","c":"b","x":141,"v":19},{"s":"N0072","c":"b","x":147,"v":19},
{"s":"N0153","c":"b","x":0,"v":0},{"s":"N0153","c":"b","x":1,"v":25},{"s":"N0153","c":"b","x":5,"v":31},{"s":"N0153","c":"b","x":9,"v":25},{"s":"N0153","c":"b","x":12,"v":12},{"s":"N0153","c":"b","x":14,"v":37},{"s":"N0153","c":"b","x":16,"v":150},{"s":"N0153","c":"b","x":18,"v":250},{"s":"N0153","c":"b","x":20,"v":300},{"s":"N0153","c":"b","x":22,"v":250},{"s":"N0153","c":"b","x":24,"v":187},{"s":"N0153","c":"b","x":26,"v":100},{"s":"N0153","c":"b","x":28,"v":50},{"s":"N0153","c":"b","x":30,"v":25},{"s":"N0153","c":"b","x":33,"v":12},{"s":"N0153","c":"b","x":36,"v":31},{"s":"N0153","c":"b","x":40,"v":25},{"s":"N0153","c":"b","x":44,"v":37},{"s":"N0153","c":"b","x":48,"v":25},{"s":"N0153","c":"b","x":50,"v":12},{"s":"N0153","c":"b","x":52,"v":12},{"s":"N0153","c":"b","x":55,"v":37},{"s":"N0153","c":"b","x":60,"v":50},{"s":"N0153","c":"b","x":65,"v":37},{"s":"N0153","c":"b","x":68,"v":37},{"s":"N0153","c":"b","x":70,"v":12},{"s":"N0153","c":"b","x":73,"v":6},{"s":"N0153","c":"b","x":74,"v":6},{"s":"N0153","c":"b","x":75,"v":62},{"s":"N0153","c":"b","x":79,"v":62},{"s":"N0153","c":"b","x":80,"v":12},{"s":"N0153","c":"b","x":85,"v":6},{"s":"N0153","c":"b","x":100,"v":6},{"s":"N0153","c":"b","x":103,"v":37},{"s":"N0153","c":"b","x":106,"v":125},{"s":"N0153","c":"b","x":108,"v":162},{"s":"N0153","c":"b","x":110,"v":137},{"s":"N0153","c":"b","x":113,"v":37},{"s":"N0153","c":"b","x":116,"v":12},{"s":"N0153","c":"b","x":120,"v":12},{"s":"N0153","c":"b","x":123,"v":25},{"s":"N0153","c":"b","x":126,"v":37},{"s":"N0153","c":"b","x":130,"v":25},{"s":"N0153","c":"b","x":133,"v":12},{"s":"N0153","c":"b","x":136,"v":12},{"s":"N0153","c":"b","x":139,"v":25},{"s":"N0153","c":"b","x":142,"v":37},{"s":"N0153","c":"b","x":145,"v":25},{"s":"N0153","c":"b","x":147,"v":12},
{"s":"N0157","c":"b","x":0,"v":0},{"s":"N0157","c":"b","x":1,"v":37},{"s":"N0157","c":"b","x":6,"v":37},{"s":"N0157","c":"b","x":8,"v":12},{"s":"N0157","c":"b","x":10,"v":6},{"s":"N0157","c":"b","x":13,"v":25},{"s":"N0157","c":"b","x":16,"v":75},{"s":"N0157","c":"b","x":20,"v":100},{"s":"N0157","c":"b","x":23,"v":112},{"s":"N0157","c":"b","x":25,"v":125},{"s":"N0157","c":"b","x":27,"v":100},{"s":"N0157","c":"b","x":30,"v":112},{"s":"N0157","c":"b","x":32,"v":75},{"s":"N0157","c":"b","x":35,"v":37},{"s":"N0157","c":"b","x":36,"v":12},{"s":"N0157","c":"b","x":50,"v":12},{"s":"N0157","c":"b","x":52,"v":25},{"s":"N0157","c":"b","x":58,"v":25},{"s":"N0157","c":"b","x":60,"v":12},{"s":"N0157","c":"b","x":75,"v":12},{"s":"N0157","c":"b","x":84,"v":6},{"s":"N0157","c":"b","x":84.1,"v":0},{"s":"N0157","c":"b","x":92.9,"v":0},{"s":"N0157","c":"b","x":93,"v":6},{"s":"N0157","c":"b","x":100,"v":6},{"s":"N0157","c":"b","x":103,"v":62},{"s":"N0157","c":"b","x":105,"v":225},{"s":"N0157","c":"b","x":107,"v":275},{"s":"N0157","c":"b","x":109,"v":262},{"s":"N0157","c":"b","x":111,"v":225},{"s":"N0157","c":"b","x":113,"v":50},{"s":"N0157","c":"b","x":116,"v":12},{"s":"N0157","c":"b","x":125,"v":12},{"s":"N0157","c":"b","x":138,"v":12},{"s":"N0157","c":"b","x":140,"v":37},{"s":"N0157","c":"b","x":145,"v":37},{"s":"N0157","c":"b","x":147,"v":25},
{"s":"N0157","c":"r","x":84,"v":0},{"s":"N0157","c":"r","x":86,"v":12},{"s":"N0157","c":"r","x":92,"v":12},{"s":"N0157","c":"r","x":93,"v":0}
],
"Di":[
{"s":"N0145","c":"r","x":28,"v":0},{"s":"N0145","c":"r","x":28.3,"v":62},{"s":"N0145","c":"r","x":36,"v":62},{"s":"N0145","c":"r","x":36.3,"v":0},
{"s":"N0145","c":"b","x":21,"v":0},{"s":"N0145","c":"b","x":21.5,"v":3},{"s":"N0145","c":"b","x":28,"v":3},{"s":"N0145","c":"b","x":28.1,"v":0},{"s":"N0145","c":"b","x":36.2,"v":0},{"s":"N0145","c":"b","x":36.3,"v":3},{"s":"N0145","c":"b","x":40,"v":3},{"s":"N0145","c":"b","x":40.3,"v":86},{"s":"N0145","c":"b","x":42,"v":95},{"s":"N0145","c":"b","x":46,"v":90},{"s":"N0145","c":"b","x":46.3,"v":3},{"s":"N0145","c":"b","x":55,"v":3},{"s":"N0145","c":"b","x":55.3,"v":0},
{"s":"N0145","x":33.5,"v":83,"t":"↰"},{"s":"N0145","x":39,"v":22,"t":"*"},{"s":"N0145","x":43.5,"v":108,"t":"↱"},
{"s":"N0153","c":"b","x":21,"v":0},{"s":"N0153","c":"b","x":55,"v":0}
],
"Dg":[{"s":"g","gene":"deaD","lane":"1","x0":0,"x1":145,"d":"+","tip":145,"m":68}],
"Dig":[{"s":"g","gene":"deaD","lane":"1","x0":3,"x1":75,"d":"0","tip":75,"m":40}]
},
"vconcat":[
{"spacing":11,"hconcat":[
 {"title":{"text":"A","dx":-7,"offset":-3.5},"spacing":1,"hconcat":[
  {"bounds":"flush","spacing":0,"vconcat":[
   {"width":4,"height":8,"data":{"values":[{}]},"mark":{"type":"point","opacity":0,"size":0,"filled":true,"strokeWidth":0}},
   {"width":4,"height":56,"data":{"values":[{"v":0},{"v":1}]},"mark":{"type":"point","opacity":0,"size":0,"filled":true,"strokeWidth":0},"encoding":{"y":{"field":"v","type":"quantitative","scale":{"domain":[0,1],"nice":false},"axis":{"orient":"left","values":[0,1],"ticks":true,"tickSize":-4,"tickColor":"#000","tickWidth":1.2,"labels":false,"title":"Lineage 2","titleFontSize":5,"titleFontWeight":"normal","titlePadding":0.5,"titleColor":"#000"}}}},
   {"width":4,"height":27,"data":{"values":[{}]},"mark":{"type":"point","opacity":0,"size":0,"filled":true,"strokeWidth":0}},
   {"width":4,"height":58,"data":{"values":[{"v":0},{"v":1}]},"mark":{"type":"point","opacity":0,"size":0,"filled":true,"strokeWidth":0},"encoding":{"y":{"field":"v","type":"quantitative","scale":{"domain":[0,1],"nice":false},"axis":{"orient":"left","values":[0,1],"ticks":true,"tickSize":-4,"tickColor":"#000","tickWidth":1.2,"labels":false,"title":"Lineage 1","titleFontSize":5,"titleFontWeight":"normal","titlePadding":0.5,"titleColor":"#000"}}}}
  ]},
  {"spacing":7,"vconcat":[
   {"spacing":14,"hconcat":[
    {"data":{"name":"A2"},"bounds":"flush","spacing":{"row":3},"facet":{"row":{"field":"s","type":"nominal","sort":["N0145","N0052","N0031"],"title":null}},
     "spec":{"width":245,"height":24,"layer":[
      {"transform":[{"filter":"datum.t == null"}],"mark":{"type":"area"},"encoding":{"x":{"field":"x","type":"quantitative","scale":{"domain":[0,245],"nice":false},"axis":null},"y":{"field":"v","type":"quantitative","stack":null,"scale":{"domain":[0,500],"nice":false},"axis":{"title":null}},"color":{"field":"c","type":"nominal","scale":{"domain":["r","b"],"range":["#e8282b","#2d4f9f"]},"legend":null}}}
     ]}},
    {"spacing":8,"vconcat":[
     {"width":77,"height":1,"data":{"values":[{}]},"mark":{"type":"point","opacity":0,"size":0,"filled":true,"strokeWidth":0}},
     {"data":{"name":"Ai"},"bounds":"flush","spacing":{"row":7},"facet":{"row":{"field":"s","type":"nominal","sort":["N0145","N0153"],"title":null}},
      "spec":{"width":77,"height":21,"layer":[
       {"transform":[{"filter":"datum.t == null"}],"mark":{"type":"area"},"encoding":{"x":{"field":"x","type":"quantitative","scale":{"domain":[0,77],"nice":false},"axis":null},"y":{"field":"v","type":"quantitative","stack":null,"scale":{"domain":[0,100],"nice":false},"axis":{"title":null}},"color":{"field":"c","type":"nominal","scale":{"domain":["r","b"],"range":["#e8282b","#2d4f9f"]},"legend":null}}},
       {"transform":[{"filter":"datum.t != null"}],"mark":{"type":"text","font":"DejaVu Sans","fontSize":8,"color":"#000"},"encoding":{"x":{"field":"x","type":"quantitative","scale":{"domain":[0,77],"nice":false},"axis":null},"y":{"field":"v","type":"quantitative","scale":{"domain":[0,100],"nice":false},"axis":{"title":null}},"text":{"field":"t"}}}
      ]}},
     {"data":{"name":"Aig"},"bounds":"flush","facet":{"row":{"field":"s","type":"nominal","title":null,"header":{"labelExpr":"'N'","labelColor":"transparent"}}},
      "spec":{"width":77,"height":12,"layer":[
      {"mark":{"type":"bar","color":"#8d8e8f"},"encoding":{"x":{"field":"x0","type":"quantitative","scale":{"domain":[0,77],"nice":false},"axis":null},"x2":{"field":"x1"},"y":{"field":"lane","type":"nominal","scale":{"domain":["1"],"paddingInner":0,"paddingOuter":0.1},"axis":null}}},
      {"mark":{"type":"text","color":"#fff","fontStyle":"italic","fontSize":8},"encoding":{"x":{"field":"m","type":"quantitative","scale":{"domain":[0,77],"nice":false},"axis":null},"y":{"field":"lane","type":"nominal","scale":{"domain":["1"],"paddingInner":0,"paddingOuter":0.1},"axis":null},"text":{"field":"gene"}}}
     ]}}
    ]}
   ]},
   {"spacing":3.5,"vconcat":[
    {"spacing":3,"hconcat":[
     {"data":{"name":"A1"},"bounds":"flush","spacing":{"row":3},"facet":{"row":{"field":"s","type":"nominal","sort":["N0072","N0153","N0157"],"title":null}},
      "spec":{"width":346,"height":24,"layer":[
       {"transform":[{"filter":"datum.t == null"}],"mark":{"type":"area"},"encoding":{"x":{"field":"x","type":"quantitative","scale":{"domain":[0,346],"nice":false},"axis":null},"y":{"field":"v","type":"quantitative","stack":null,"scale":{"domain":[0,500],"nice":false},"axis":{"title":null}},"color":{"field":"c","type":"nominal","scale":{"domain":["r","b"],"range":["#e8282b","#2d4f9f"]},"legend":null}}},
       {"transform":[{"filter":"datum.t != null"}],"mark":{"type":"text","font":"DejaVu Sans","fontSize":8,"color":"#000"},"encoding":{"x":{"field":"x","type":"quantitative","scale":{"domain":[0,346],"nice":false},"axis":null},"y":{"field":"v","type":"quantitative","scale":{"domain":[0,500],"nice":false},"axis":{"title":null}},"text":{"field":"t"}}}
      ]}},
     {"bounds":"flush","spacing":53,"vconcat":[
      {"width":1,"height":1,"data":{"values":[{}]},"mark":{"type":"point","opacity":0,"size":0,"filled":true,"strokeWidth":0}},
      {"width":1,"height":24,"data":{"values":[{"v":0},{"v":500}]},"mark":{"type":"point","opacity":0,"size":0,"filled":true,"strokeWidth":0},"encoding":{"y":{"field":"v","type":"quantitative","scale":{"domain":[0,500],"nice":false},"axis":{"orient":"right","values":[0,500],"ticks":true,"tickSize":-3,"tickColor":"#000","tickWidth":1,"labels":true,"labelFontSize":5,"labelPadding":4,"labelFlush":false,"labelColor":"#000","title":null}}}}
     ]}
    ]},
    {"data":{"name":"Ag"},"bounds":"flush","facet":{"row":{"field":"s","type":"nominal","title":null,"header":{"labelExpr":"'N'","labelColor":"transparent"}}},
     "spec":{"width":346,"height":21,"layer":[
     {"mark":{"type":"bar","color":"#8d8e8f"},"encoding":{"x":{"field":"x0","type":"quantitative","scale":{"domain":[0,346],"nice":false},"axis":null},"x2":{"field":"x1"},"y":{"field":"lane","type":"nominal","scale":{"domain":["1","2"],"paddingInner":0.2,"paddingOuter":0},"axis":null}}},
     {"mark":{"type":"point","filled":true,"opacity":1,"color":"#8d8e8f","size":90},"encoding":{"x":{"field":"tip","type":"quantitative","scale":{"domain":[0,346],"nice":false},"axis":null},"y":{"field":"lane","type":"nominal","scale":{"domain":["1","2"],"paddingInner":0.2,"paddingOuter":0},"axis":null},"shape":{"field":"d","type":"nominal","scale":{"domain":["+","-"],"range":["M0,-1L1,0L0,1Z","M0,-1L-1,0L0,1Z"]},"legend":null}}},
     {"mark":{"type":"text","color":"#fff","fontStyle":"italic","fontSize":8},"encoding":{"x":{"field":"m","type":"quantitative","scale":{"domain":[0,346],"nice":false},"axis":null},"y":{"field":"lane","type":"nominal","scale":{"domain":["1","2"],"paddingInner":0.2,"paddingOuter":0},"axis":null},"text":{"field":"gene"}}}
    ]}}
   ]}
  ]}
 ]},
 {"title":{"text":"B","dx":-17,"offset":-3.5},"spacing":0,"hconcat":[
  {"bounds":"flush","spacing":0,"vconcat":[
   {"width":4,"height":9,"data":{"values":[{}]},"mark":{"type":"point","opacity":0,"size":0,"filled":true,"strokeWidth":0}},
   {"width":4,"height":57,"data":{"values":[{"v":0},{"v":1}]},"mark":{"type":"point","opacity":0,"size":0,"filled":true,"strokeWidth":0},"encoding":{"y":{"field":"v","type":"quantitative","scale":{"domain":[0,1],"nice":false},"axis":{"orient":"left","values":[0,1],"ticks":true,"tickSize":-4,"tickColor":"#000","tickWidth":1.2,"labels":false,"title":"Lineage 2","titleFontSize":5,"titleFontWeight":"normal","titlePadding":0.5,"titleColor":"#000"}}}},
   {"width":4,"height":23,"data":{"values":[{}]},"mark":{"type":"point","opacity":0,"size":0,"filled":true,"strokeWidth":0}},
   {"width":4,"height":59,"data":{"values":[{"v":0},{"v":1}]},"mark":{"type":"point","opacity":0,"size":0,"filled":true,"strokeWidth":0},"encoding":{"y":{"field":"v","type":"quantitative","scale":{"domain":[0,1],"nice":false},"axis":{"orient":"left","values":[0,1],"ticks":true,"tickSize":-4,"tickColor":"#000","tickWidth":1.2,"labels":false,"title":"Lineage 1","titleFontSize":5,"titleFontWeight":"normal","titlePadding":0.5,"titleColor":"#000"}}}}
  ]},
  {"spacing":5,"vconcat":[
   {"spacing":7,"hconcat":[
    {"data":{"name":"B2"},"bounds":"flush","spacing":{"row":3.5},"facet":{"row":{"field":"s","type":"nominal","sort":["N0145","N0052","N0031"],"title":null}},
     "spec":{"width":155,"height":24,"layer":[
      {"transform":[{"filter":"datum.t == null"}],"mark":{"type":"area"},"encoding":{"x":{"field":"x","type":"quantitative","scale":{"domain":[-3,152],"nice":false},"axis":null},"y":{"field":"v","type":"quantitative","stack":null,"scale":{"domain":[0,250],"nice":false},"axis":{"title":null}},"color":{"field":"c","type":"nominal","scale":{"domain":["r","b"],"range":["#e8282b","#2d4f9f"]},"legend":null}}},
      {"transform":[{"filter":"datum.t != null"}],"mark":{"type":"text","font":"DejaVu Sans","fontSize":8,"color":"#000"},"encoding":{"x":{"field":"x","type":"quantitative","scale":{"domain":[-3,152],"nice":false},"axis":null},"y":{"field":"v","type":"quantitative","scale":{"domain":[0,250],"nice":false},"axis":{"title":null}},"text":{"field":"t"}}}
     ]}},
    {"spacing":5,"vconcat":[
     {"width":80,"height":1,"data":{"values":[{}]},"mark":{"type":"point","opacity":0,"size":0,"filled":true,"strokeWidth":0}},
     {"data":{"name":"Bi"},"bounds":"flush","spacing":{"row":7},"facet":{"row":{"field":"s","type":"nominal","sort":["N0145","N0153"],"title":null}},
      "spec":{"width":80,"height":21,"layer":[
       {"transform":[{"filter":"datum.t == null"}],"mark":{"type":"area"},"encoding":{"x":{"field":"x","type":"quantitative","scale":{"domain":[0,80],"nice":false},"axis":null},"y":{"field":"v","type":"quantitative","stack":null,"scale":{"domain":[0,100],"nice":false},"axis":{"title":null}},"color":{"field":"c","type":"nominal","scale":{"domain":["r","b"],"range":["#e8282b","#2d4f9f"]},"legend":null}}},
       {"transform":[{"filter":"datum.t != null"}],"mark":{"type":"text","font":"DejaVu Sans","fontSize":8,"color":"#000"},"encoding":{"x":{"field":"x","type":"quantitative","scale":{"domain":[0,80],"nice":false},"axis":null},"y":{"field":"v","type":"quantitative","scale":{"domain":[0,100],"nice":false},"axis":{"title":null}},"text":{"field":"t"}}}
      ]}},
     {"data":{"name":"Big"},"bounds":"flush","facet":{"row":{"field":"s","type":"nominal","title":null,"header":{"labelExpr":"'N'","labelColor":"transparent"}}},
      "spec":{"width":80,"height":14,"layer":[
      {"mark":{"type":"bar","color":"#8d8e8f"},"encoding":{"x":{"field":"x0","type":"quantitative","scale":{"domain":[0,80],"nice":false},"axis":null},"x2":{"field":"x1"},"y":{"field":"lane","type":"nominal","scale":{"domain":["1"],"paddingInner":0,"paddingOuter":0.2},"axis":null}}},
      {"mark":{"type":"text","color":"#fff","fontStyle":"italic","fontSize":8},"encoding":{"x":{"field":"m","type":"quantitative","scale":{"domain":[0,80],"nice":false},"axis":null},"y":{"field":"lane","type":"nominal","scale":{"domain":["1"],"paddingInner":0,"paddingOuter":0.2},"axis":null},"text":{"field":"gene"}}}
     ]}}
    ]}
   ]},
   {"spacing":5,"vconcat":[
    {"spacing":1,"hconcat":[
     {"data":{"name":"B1"},"bounds":"flush","spacing":{"row":3.5},"facet":{"row":{"field":"s","type":"nominal","sort":["N0072","N0153","N0157"],"title":null}},
      "spec":{"width":252,"height":24,"layer":[
       {"transform":[{"filter":"datum.t == null"}],"mark":{"type":"area"},"encoding":{"x":{"field":"x","type":"quantitative","scale":{"domain":[-3,249],"nice":false},"axis":null},"y":{"field":"v","type":"quantitative","stack":null,"scale":{"domain":[0,250],"nice":false},"axis":{"title":null}},"color":{"field":"c","type":"nominal","scale":{"domain":["r","b"],"range":["#e8282b","#2d4f9f"]},"legend":null}}},
       {"transform":[{"filter":"datum.t != null"}],"mark":{"type":"text","font":"DejaVu Sans","fontSize":8,"color":"#000"},"encoding":{"x":{"field":"x","type":"quantitative","scale":{"domain":[-3,249],"nice":false},"axis":null},"y":{"field":"v","type":"quantitative","scale":{"domain":[0,250],"nice":false},"axis":{"title":null}},"text":{"field":"t"}}}
      ]}},
     {"bounds":"flush","spacing":54,"vconcat":[
      {"width":1,"height":1,"data":{"values":[{}]},"mark":{"type":"point","opacity":0,"size":0,"filled":true,"strokeWidth":0}},
      {"width":1,"height":24,"data":{"values":[{"v":0},{"v":250}]},"mark":{"type":"point","opacity":0,"size":0,"filled":true,"strokeWidth":0},"encoding":{"y":{"field":"v","type":"quantitative","scale":{"domain":[0,250],"nice":false},"axis":{"orient":"right","values":[0,250],"ticks":true,"tickSize":-3,"tickColor":"#000","tickWidth":1,"labels":true,"labelFontSize":5,"labelPadding":4,"labelFlush":false,"labelColor":"#000","title":null}}}}
     ]}
    ]},
    {"data":{"name":"Bg"},"bounds":"flush","facet":{"row":{"field":"s","type":"nominal","title":null,"header":{"labelExpr":"'N'","labelColor":"transparent"}}},
     "spec":{"width":252,"height":21,"layer":[
     {"mark":{"type":"bar","color":"#8d8e8f"},"encoding":{"x":{"field":"x0","type":"quantitative","scale":{"domain":[-3,249],"nice":false},"axis":null},"x2":{"field":"x1"},"y":{"field":"lane","type":"nominal","scale":{"domain":["1","2"],"paddingInner":0.2,"paddingOuter":0},"axis":null}}},
     {"mark":{"type":"point","filled":true,"opacity":1,"color":"#8d8e8f","size":90},"encoding":{"x":{"field":"tip","type":"quantitative","scale":{"domain":[-3,249],"nice":false},"axis":null},"y":{"field":"lane","type":"nominal","scale":{"domain":["1","2"],"paddingInner":0.2,"paddingOuter":0},"axis":null},"shape":{"field":"d","type":"nominal","scale":{"domain":["+","-"],"range":["M0,-1L1,0L0,1Z","M0,-1L-1,0L0,1Z"]},"legend":null}}},
     {"mark":{"type":"text","color":"#fff","fontStyle":"italic","fontSize":8},"encoding":{"x":{"field":"m","type":"quantitative","scale":{"domain":[-3,249],"nice":false},"axis":null},"y":{"field":"lane","type":"nominal","scale":{"domain":["1","2"],"paddingInner":0.2,"paddingOuter":0},"axis":null},"text":{"field":"gene"}}}
    ]}}
   ]}
  ]}
 ]}
]},
{"spacing":0,"hconcat":[
 {"width":62,"height":1,"data":{"values":[{}]},"mark":{"type":"point","opacity":0,"size":0,"filled":true,"strokeWidth":0}},
 {"title":{"text":"C","dx":-19,"offset":-13},"spacing":0,"hconcat":[
  {"bounds":"flush","spacing":0,"vconcat":[
   {"width":4,"height":9,"data":{"values":[{}]},"mark":{"type":"point","opacity":0,"size":0,"filled":true,"strokeWidth":0}},
   {"width":4,"height":58,"data":{"values":[{"v":0},{"v":1}]},"mark":{"type":"point","opacity":0,"size":0,"filled":true,"strokeWidth":0},"encoding":{"y":{"field":"v","type":"quantitative","scale":{"domain":[0,1],"nice":false},"axis":{"orient":"left","values":[0,1],"ticks":true,"tickSize":-4,"tickColor":"#000","tickWidth":1.2,"labels":false,"title":"Lineage 2","titleFontSize":5,"titleFontWeight":"normal","titlePadding":0.5,"titleColor":"#000"}}}},
   {"width":4,"height":27,"data":{"values":[{}]},"mark":{"type":"point","opacity":0,"size":0,"filled":true,"strokeWidth":0}},
   {"width":4,"height":57,"data":{"values":[{"v":0},{"v":1}]},"mark":{"type":"point","opacity":0,"size":0,"filled":true,"strokeWidth":0},"encoding":{"y":{"field":"v","type":"quantitative","scale":{"domain":[0,1],"nice":false},"axis":{"orient":"left","values":[0,1],"ticks":true,"tickSize":-4,"tickColor":"#000","tickWidth":1.2,"labels":false,"title":"Lineage 1","titleFontSize":5,"titleFontWeight":"normal","titlePadding":0.5,"titleColor":"#000"}}}}
  ]},
  {"spacing":6,"vconcat":[
   {"spacing":0,"hconcat":[
    {"data":{"name":"C2"},"bounds":"flush","spacing":{"row":3.5},"facet":{"row":{"field":"s","type":"nominal","sort":["N0145","N0052","N0031"],"title":null}},
     "spec":{"width":132,"height":24,"layer":[
      {"transform":[{"filter":"datum.t == null"}],"mark":{"type":"area"},"encoding":{"x":{"field":"x","type":"quantitative","scale":{"domain":[-2,130],"nice":false},"axis":null},"y":{"field":"v","type":"quantitative","stack":null,"scale":{"domain":[0,2000],"nice":false},"axis":{"title":null}},"color":{"field":"c","type":"nominal","scale":{"domain":["r","b"],"range":["#e8282b","#2d4f9f"]},"legend":null}}}
     ]}},
    {"spacing":6,"vconcat":[
     {"width":75,"height":3,"data":{"values":[{}]},"mark":{"type":"point","opacity":0,"size":0,"filled":true,"strokeWidth":0}},
     {"data":{"name":"Ci"},"bounds":"flush","spacing":{"row":3},"facet":{"row":{"field":"s","type":"nominal","sort":["N0145","N0153"],"title":null}},
      "spec":{"width":75,"height":22,"layer":[
       {"transform":[{"filter":"datum.t == null"}],"mark":{"type":"area"},"encoding":{"x":{"field":"x","type":"quantitative","scale":{"domain":[0,75],"nice":false},"axis":null},"y":{"field":"v","type":"quantitative","stack":null,"scale":{"domain":[0,100],"nice":false},"axis":{"title":null}},"color":{"field":"c","type":"nominal","scale":{"domain":["r","b"],"range":["#e8282b","#2d4f9f"]},"legend":null}}},
       {"transform":[{"filter":"datum.t != null"}],"mark":{"type":"text","font":"DejaVu Sans","fontSize":8,"color":"#000"},"encoding":{"x":{"field":"x","type":"quantitative","scale":{"domain":[0,75],"nice":false},"axis":null},"y":{"field":"v","type":"quantitative","scale":{"domain":[0,100],"nice":false},"axis":{"title":null}},"text":{"field":"t"}}}
      ]}},
     {"data":{"name":"Cig"},"bounds":"flush","facet":{"row":{"field":"s","type":"nominal","title":null,"header":{"labelExpr":"'N'","labelColor":"transparent"}}},
      "spec":{"width":75,"height":16,"layer":[
      {"mark":{"type":"bar","color":"#8d8e8f"},"encoding":{"x":{"field":"x0","type":"quantitative","scale":{"domain":[0,75],"nice":false},"axis":null},"x2":{"field":"x1"},"y":{"field":"lane","type":"nominal","scale":{"domain":["1"],"paddingInner":0,"paddingOuter":0.3},"axis":null}}},
      {"mark":{"type":"point","filled":true,"opacity":1,"color":"#8d8e8f","size":100},"encoding":{"x":{"field":"tip","type":"quantitative","scale":{"domain":[0,75],"nice":false},"axis":null},"y":{"field":"lane","type":"nominal","scale":{"domain":["1"],"paddingInner":0,"paddingOuter":0.3},"axis":null},"shape":{"field":"d","type":"nominal","scale":{"domain":["+","-"],"range":["M0,-1L1,0L0,1Z","M0,-1L-1,0L0,1Z"]},"legend":null}}},
      {"mark":{"type":"text","color":"#fff","fontStyle":"italic","fontSize":8},"encoding":{"x":{"field":"m","type":"quantitative","scale":{"domain":[0,75],"nice":false},"axis":null},"y":{"field":"lane","type":"nominal","scale":{"domain":["1"],"paddingInner":0,"paddingOuter":0.3},"axis":null},"text":{"field":"gene"}}}
     ]}}
    ]}
   ]},
   {"spacing":4.5,"vconcat":[
    {"spacing":1,"hconcat":[
     {"data":{"name":"C1"},"bounds":"flush","spacing":{"row":4.5},"facet":{"row":{"field":"s","type":"nominal","sort":["N0072","N0153","N0157"],"title":null}},
      "spec":{"width":206,"height":24,"layer":[
       {"transform":[{"filter":"datum.t == null"}],"mark":{"type":"area"},"encoding":{"x":{"field":"x","type":"quantitative","scale":{"domain":[-2,204],"nice":false},"axis":null},"y":{"field":"v","type":"quantitative","stack":null,"scale":{"domain":[0,2000],"nice":false},"axis":{"title":null}},"color":{"field":"c","type":"nominal","scale":{"domain":["r","b"],"range":["#e8282b","#2d4f9f"]},"legend":null}}},
       {"transform":[{"filter":"datum.t != null"}],"mark":{"type":"text","font":"DejaVu Sans","fontSize":8,"color":"#000"},"encoding":{"x":{"field":"x","type":"quantitative","scale":{"domain":[-2,204],"nice":false},"axis":null},"y":{"field":"v","type":"quantitative","scale":{"domain":[0,2000],"nice":false},"axis":{"title":null}},"text":{"field":"t"}}}
      ]}},
     {"bounds":"flush","spacing":56,"vconcat":[
      {"width":1,"height":1,"data":{"values":[{}]},"mark":{"type":"point","opacity":0,"size":0,"filled":true,"strokeWidth":0}},
      {"width":1,"height":24,"data":{"values":[{"v":0},{"v":2000}]},"mark":{"type":"point","opacity":0,"size":0,"filled":true,"strokeWidth":0},"encoding":{"y":{"field":"v","type":"quantitative","scale":{"domain":[0,2000],"nice":false},"axis":{"orient":"right","values":[0,2000],"format":"d","ticks":true,"tickSize":-3,"tickColor":"#000","tickWidth":1,"labels":true,"labelFontSize":5,"labelPadding":4,"labelFlush":false,"labelColor":"#000","title":null}}}}
     ]}
    ]},
    {"data":{"name":"Cg"},"bounds":"flush","facet":{"row":{"field":"s","type":"nominal","title":null,"header":{"labelExpr":"'N'","labelColor":"transparent"}}},
     "spec":{"width":206,"height":26,"layer":[
     {"mark":{"type":"bar","color":"#8d8e8f"},"encoding":{"x":{"field":"x0","type":"quantitative","scale":{"domain":[-2,204],"nice":false},"axis":null},"x2":{"field":"x1"},"y":{"field":"lane","type":"nominal","scale":{"domain":["1","2"],"paddingInner":0.3,"paddingOuter":0.15},"axis":null}}},
     {"mark":{"type":"point","filled":true,"opacity":1,"color":"#8d8e8f","size":85},"encoding":{"x":{"field":"tip","type":"quantitative","scale":{"domain":[-2,204],"nice":false},"axis":null},"y":{"field":"lane","type":"nominal","scale":{"domain":["1","2"],"paddingInner":0.3,"paddingOuter":0.15},"axis":null},"shape":{"field":"d","type":"nominal","scale":{"domain":["+","-"],"range":["M0,-1L1,0L0,1Z","M0,-1L-1,0L0,1Z"]},"legend":null}}},
     {"mark":{"type":"text","color":"#fff","fontStyle":"italic","fontSize":8},"encoding":{"x":{"field":"m","type":"quantitative","scale":{"domain":[-2,204],"nice":false},"axis":null},"y":{"field":"lane","type":"nominal","scale":{"domain":["1","2"],"paddingInner":0.3,"paddingOuter":0.15},"axis":null},"text":{"field":"gene"}}}
    ]}}
   ]}
  ]}
 ]},
 {"width":74,"height":1,"data":{"values":[{}]},"mark":{"type":"point","opacity":0,"size":0,"filled":true,"strokeWidth":0}},
 {"title":{"text":"D","dx":-20,"offset":-17},"spacing":1,"hconcat":[
  {"bounds":"flush","spacing":0,"vconcat":[
   {"width":4,"height":16,"data":{"values":[{}]},"mark":{"type":"point","opacity":0,"size":0,"filled":true,"strokeWidth":0}},
   {"width":4,"height":57,"data":{"values":[{"v":0},{"v":1}]},"mark":{"type":"point","opacity":0,"size":0,"filled":true,"strokeWidth":0},"encoding":{"y":{"field":"v","type":"quantitative","scale":{"domain":[0,1],"nice":false},"axis":{"orient":"left","values":[0,1],"ticks":true,"tickSize":-4,"tickColor":"#000","tickWidth":1.2,"labels":false,"title":"Lineage 2","titleFontSize":5,"titleFontWeight":"normal","titlePadding":0.5,"titleColor":"#000"}}}},
   {"width":4,"height":26,"data":{"values":[{}]},"mark":{"type":"point","opacity":0,"size":0,"filled":true,"strokeWidth":0}},
   {"width":4,"height":57,"data":{"values":[{"v":0},{"v":1}]},"mark":{"type":"point","opacity":0,"size":0,"filled":true,"strokeWidth":0},"encoding":{"y":{"field":"v","type":"quantitative","scale":{"domain":[0,1],"nice":false},"axis":{"orient":"left","values":[0,1],"ticks":true,"tickSize":-4,"tickColor":"#000","tickWidth":1.2,"labels":false,"title":"Lineage 1","titleFontSize":5,"titleFontWeight":"normal","titlePadding":0.5,"titleColor":"#000"}}}}
  ]},
  {"spacing":6,"vconcat":[
   {"width":1,"height":2,"data":{"values":[{}]},"mark":{"type":"point","opacity":0,"size":0,"filled":true,"strokeWidth":0}},
   {"spacing":1,"hconcat":[
    {"data":{"name":"D2"},"bounds":"flush","spacing":{"row":3.5},"facet":{"row":{"field":"s","type":"nominal","sort":["N0145","N0052","N0031"],"title":null}},
     "spec":{"width":64,"height":24,"layer":[
      {"transform":[{"filter":"datum.t == null"}],"mark":{"type":"area"},"encoding":{"x":{"field":"x","type":"quantitative","scale":{"domain":[-1,63],"nice":false},"axis":null},"y":{"field":"v","type":"quantitative","stack":null,"scale":{"domain":[0,300],"nice":false},"axis":{"title":null}},"color":{"field":"c","type":"nominal","scale":{"domain":["r","b"],"range":["#e8282b","#2d4f9f"]},"legend":null}}},
      {"transform":[{"filter":"datum.t != null"}],"mark":{"type":"text","font":"DejaVu Sans","fontSize":8,"color":"#000"},"encoding":{"x":{"field":"x","type":"quantitative","scale":{"domain":[-1,63],"nice":false},"axis":null},"y":{"field":"v","type":"quantitative","scale":{"domain":[0,300],"nice":false},"axis":{"title":null}},"text":{"field":"t"}}}
     ]}},
    {"spacing":3,"vconcat":[
     {"width":76,"height":6,"data":{"values":[{}]},"mark":{"type":"point","opacity":0,"size":0,"filled":true,"strokeWidth":0}},
     {"data":{"name":"Di"},"bounds":"flush","spacing":{"row":3},"facet":{"row":{"field":"s","type":"nominal","sort":["N0145","N0153"],"title":null}},
      "spec":{"width":76,"height":21,"layer":[
       {"transform":[{"filter":"datum.t == null"}],"mark":{"type":"area"},"encoding":{"x":{"field":"x","type":"quantitative","scale":{"domain":[0,76],"nice":false},"axis":null},"y":{"field":"v","type":"quantitative","stack":null,"scale":{"domain":[0,100],"nice":false},"axis":{"title":null}},"color":{"field":"c","type":"nominal","scale":{"domain":["r","b"],"range":["#e8282b","#2d4f9f"]},"legend":null}}},
       {"transform":[{"filter":"datum.t != null"}],"mark":{"type":"text","font":"DejaVu Sans","fontSize":8,"color":"#000"},"encoding":{"x":{"field":"x","type":"quantitative","scale":{"domain":[0,76],"nice":false},"axis":null},"y":{"field":"v","type":"quantitative","scale":{"domain":[0,100],"nice":false},"axis":{"title":null}},"text":{"field":"t"}}}
      ]}},
     {"data":{"name":"Dig"},"bounds":"flush","facet":{"row":{"field":"s","type":"nominal","title":null,"header":{"labelExpr":"'N'","labelColor":"transparent"}}},
      "spec":{"width":76,"height":15,"layer":[
      {"mark":{"type":"bar","color":"#8d8e8f"},"encoding":{"x":{"field":"x0","type":"quantitative","scale":{"domain":[0,76],"nice":false},"axis":null},"x2":{"field":"x1"},"y":{"field":"lane","type":"nominal","scale":{"domain":["1"],"paddingInner":0,"paddingOuter":0.25},"axis":null}}},
      {"mark":{"type":"text","color":"#fff","fontStyle":"italic","fontSize":8},"encoding":{"x":{"field":"m","type":"quantitative","scale":{"domain":[0,76],"nice":false},"axis":null},"y":{"field":"lane","type":"nominal","scale":{"domain":["1"],"paddingInner":0,"paddingOuter":0.25},"axis":null},"text":{"field":"gene"}}}
     ]}}
    ]}
   ]},
   {"spacing":2,"vconcat":[
    {"spacing":2,"hconcat":[
     {"data":{"name":"D1"},"bounds":"flush","spacing":{"row":3.5},"facet":{"row":{"field":"s","type":"nominal","sort":["N0072","N0153","N0157"],"title":null}},
      "spec":{"width":148,"height":24,"layer":[
       {"transform":[{"filter":"datum.t == null"}],"mark":{"type":"area"},"encoding":{"x":{"field":"x","type":"quantitative","scale":{"domain":[-1,147],"nice":false},"axis":null},"y":{"field":"v","type":"quantitative","stack":null,"scale":{"domain":[0,300],"nice":false},"axis":{"title":null}},"color":{"field":"c","type":"nominal","scale":{"domain":["r","b"],"range":["#e8282b","#2d4f9f"]},"legend":null}}}
      ]}},
     {"bounds":"flush","spacing":54,"vconcat":[
      {"width":1,"height":1,"data":{"values":[{}]},"mark":{"type":"point","opacity":0,"size":0,"filled":true,"strokeWidth":0}},
      {"width":1,"height":24,"data":{"values":[{"v":0},{"v":300}]},"mark":{"type":"point","opacity":0,"size":0,"filled":true,"strokeWidth":0},"encoding":{"y":{"field":"v","type":"quantitative","scale":{"domain":[0,300],"nice":false},"axis":{"orient":"right","values":[0,300],"ticks":true,"tickSize":-3,"tickColor":"#000","tickWidth":1,"labels":true,"labelFontSize":5,"labelPadding":4,"labelFlush":false,"labelColor":"#000","title":null}}}}
     ]}
    ]},
    {"data":{"name":"Dg"},"bounds":"flush","facet":{"row":{"field":"s","type":"nominal","title":null,"header":{"labelExpr":"'N'","labelColor":"transparent"}}},
     "spec":{"width":148,"height":18,"layer":[
     {"mark":{"type":"bar","color":"#8d8e8f"},"encoding":{"x":{"field":"x0","type":"quantitative","scale":{"domain":[-1,147],"nice":false},"axis":null},"x2":{"field":"x1"},"y":{"field":"lane","type":"nominal","scale":{"domain":["0","1"],"paddingInner":0,"paddingOuter":0},"axis":null}}},
     {"mark":{"type":"point","filled":true,"opacity":1,"color":"#8d8e8f","size":81},"encoding":{"x":{"field":"tip","type":"quantitative","scale":{"domain":[-1,147],"nice":false},"axis":null},"y":{"field":"lane","type":"nominal","scale":{"domain":["0","1"],"paddingInner":0,"paddingOuter":0},"axis":null},"shape":{"field":"d","type":"nominal","scale":{"domain":["+","-"],"range":["M0,-1L1,0L0,1Z","M0,-1L-1,0L0,1Z"]},"legend":null}}},
     {"mark":{"type":"text","color":"#fff","fontStyle":"italic","fontSize":8},"encoding":{"x":{"field":"m","type":"quantitative","scale":{"domain":[-1,147],"nice":false},"axis":null},"y":{"field":"lane","type":"nominal","scale":{"domain":["0","1"],"paddingInner":0,"paddingOuter":0},"axis":null},"text":{"field":"gene"}}}
    ]}}
   ]}
  ]}
 ]}
]}
],"spacing":20}
